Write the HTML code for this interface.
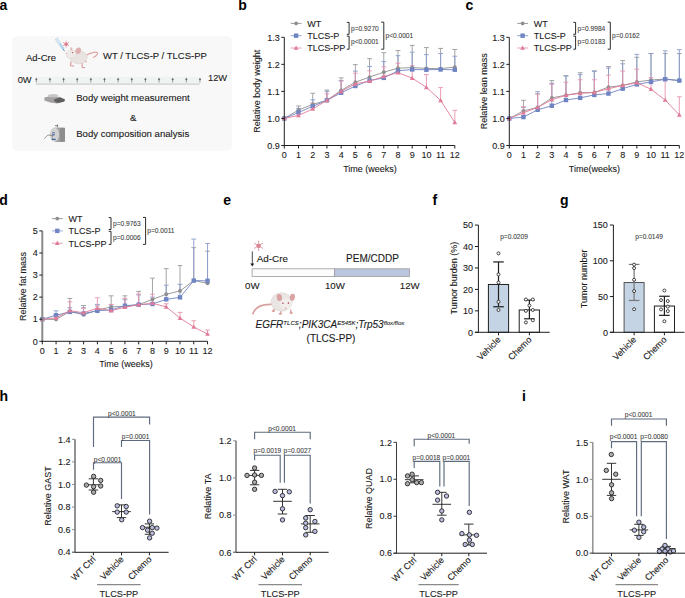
<!DOCTYPE html>
<html><head><meta charset="utf-8"><style>
html,body{margin:0;padding:0;background:#fff;width:685px;height:598px;overflow:hidden}
svg{display:block;font-family:"Liberation Sans", sans-serif}
</style></head><body>
<svg width="685" height="598" viewBox="0 0 685 598">
<line x1="298.51" y1="110.06" x2="298.51" y2="106.01" stroke="#9a9a9a" stroke-width="0.9" />
<line x1="296.11" y1="106.01" x2="300.91" y2="106.01" stroke="#9a9a9a" stroke-width="0.9" />
<line x1="312.72" y1="104.38" x2="312.72" y2="93.29" stroke="#9a9a9a" stroke-width="0.9" />
<line x1="310.32" y1="93.29" x2="315.12" y2="93.29" stroke="#9a9a9a" stroke-width="0.9" />
<line x1="326.93" y1="100.33" x2="326.93" y2="90.05" stroke="#9a9a9a" stroke-width="0.9" />
<line x1="324.53" y1="90.05" x2="329.33" y2="90.05" stroke="#9a9a9a" stroke-width="0.9" />
<line x1="341.14" y1="90.32" x2="341.14" y2="77.88" stroke="#9a9a9a" stroke-width="0.9" />
<line x1="338.74" y1="77.88" x2="343.54" y2="77.88" stroke="#9a9a9a" stroke-width="0.9" />
<line x1="355.35" y1="82.20" x2="355.35" y2="64.62" stroke="#9a9a9a" stroke-width="0.9" />
<line x1="352.95" y1="64.62" x2="357.75" y2="64.62" stroke="#9a9a9a" stroke-width="0.9" />
<line x1="369.56" y1="77.06" x2="369.56" y2="58.67" stroke="#9a9a9a" stroke-width="0.9" />
<line x1="367.16" y1="58.67" x2="371.96" y2="58.67" stroke="#9a9a9a" stroke-width="0.9" />
<line x1="383.77" y1="72.19" x2="383.77" y2="52.72" stroke="#9a9a9a" stroke-width="0.9" />
<line x1="381.37" y1="52.72" x2="386.17" y2="52.72" stroke="#9a9a9a" stroke-width="0.9" />
<line x1="397.98" y1="68.14" x2="397.98" y2="50.55" stroke="#9a9a9a" stroke-width="0.9" />
<line x1="395.58" y1="50.55" x2="400.38" y2="50.55" stroke="#9a9a9a" stroke-width="0.9" />
<line x1="412.19" y1="67.60" x2="412.19" y2="45.42" stroke="#9a9a9a" stroke-width="0.9" />
<line x1="409.79" y1="45.42" x2="414.59" y2="45.42" stroke="#9a9a9a" stroke-width="0.9" />
<line x1="426.40" y1="68.41" x2="426.40" y2="47.58" stroke="#9a9a9a" stroke-width="0.9" />
<line x1="424.00" y1="47.58" x2="428.80" y2="47.58" stroke="#9a9a9a" stroke-width="0.9" />
<line x1="440.61" y1="68.68" x2="440.61" y2="48.39" stroke="#9a9a9a" stroke-width="0.9" />
<line x1="438.21" y1="48.39" x2="443.01" y2="48.39" stroke="#9a9a9a" stroke-width="0.9" />
<line x1="454.82" y1="67.06" x2="454.82" y2="49.47" stroke="#9a9a9a" stroke-width="0.9" />
<line x1="452.42" y1="49.47" x2="457.22" y2="49.47" stroke="#9a9a9a" stroke-width="0.9" />
<line x1="298.51" y1="112.50" x2="298.51" y2="108.44" stroke="#8a9ccf" stroke-width="0.9" />
<line x1="296.11" y1="108.44" x2="300.91" y2="108.44" stroke="#8a9ccf" stroke-width="0.9" />
<line x1="312.72" y1="106.28" x2="312.72" y2="99.79" stroke="#8a9ccf" stroke-width="0.9" />
<line x1="310.32" y1="99.79" x2="315.12" y2="99.79" stroke="#8a9ccf" stroke-width="0.9" />
<line x1="326.93" y1="100.33" x2="326.93" y2="91.40" stroke="#8a9ccf" stroke-width="0.9" />
<line x1="324.53" y1="91.40" x2="329.33" y2="91.40" stroke="#8a9ccf" stroke-width="0.9" />
<line x1="341.14" y1="92.75" x2="341.14" y2="80.58" stroke="#8a9ccf" stroke-width="0.9" />
<line x1="338.74" y1="80.58" x2="343.54" y2="80.58" stroke="#8a9ccf" stroke-width="0.9" />
<line x1="355.35" y1="85.99" x2="355.35" y2="71.11" stroke="#8a9ccf" stroke-width="0.9" />
<line x1="352.95" y1="71.11" x2="357.75" y2="71.11" stroke="#8a9ccf" stroke-width="0.9" />
<line x1="369.56" y1="80.58" x2="369.56" y2="66.51" stroke="#8a9ccf" stroke-width="0.9" />
<line x1="367.16" y1="66.51" x2="371.96" y2="66.51" stroke="#8a9ccf" stroke-width="0.9" />
<line x1="383.77" y1="77.88" x2="383.77" y2="61.65" stroke="#8a9ccf" stroke-width="0.9" />
<line x1="381.37" y1="61.65" x2="386.17" y2="61.65" stroke="#8a9ccf" stroke-width="0.9" />
<line x1="397.98" y1="70.84" x2="397.98" y2="55.69" stroke="#8a9ccf" stroke-width="0.9" />
<line x1="395.58" y1="55.69" x2="400.38" y2="55.69" stroke="#8a9ccf" stroke-width="0.9" />
<line x1="412.19" y1="69.49" x2="412.19" y2="52.18" stroke="#8a9ccf" stroke-width="0.9" />
<line x1="409.79" y1="52.18" x2="414.59" y2="52.18" stroke="#8a9ccf" stroke-width="0.9" />
<line x1="426.40" y1="69.76" x2="426.40" y2="54.61" stroke="#8a9ccf" stroke-width="0.9" />
<line x1="424.00" y1="54.61" x2="428.80" y2="54.61" stroke="#8a9ccf" stroke-width="0.9" />
<line x1="440.61" y1="69.49" x2="440.61" y2="53.53" stroke="#8a9ccf" stroke-width="0.9" />
<line x1="438.21" y1="53.53" x2="443.01" y2="53.53" stroke="#8a9ccf" stroke-width="0.9" />
<line x1="454.82" y1="69.76" x2="454.82" y2="56.24" stroke="#8a9ccf" stroke-width="0.9" />
<line x1="452.42" y1="56.24" x2="457.22" y2="56.24" stroke="#8a9ccf" stroke-width="0.9" />
<line x1="298.51" y1="115.47" x2="298.51" y2="110.34" stroke="#e894ab" stroke-width="0.9" />
<line x1="296.11" y1="110.34" x2="300.91" y2="110.34" stroke="#e894ab" stroke-width="0.9" />
<line x1="312.72" y1="108.98" x2="312.72" y2="103.03" stroke="#e894ab" stroke-width="0.9" />
<line x1="310.32" y1="103.03" x2="315.12" y2="103.03" stroke="#e894ab" stroke-width="0.9" />
<line x1="326.93" y1="100.33" x2="326.93" y2="93.83" stroke="#e894ab" stroke-width="0.9" />
<line x1="324.53" y1="93.83" x2="329.33" y2="93.83" stroke="#e894ab" stroke-width="0.9" />
<line x1="341.14" y1="91.40" x2="341.14" y2="81.12" stroke="#e894ab" stroke-width="0.9" />
<line x1="338.74" y1="81.12" x2="343.54" y2="81.12" stroke="#e894ab" stroke-width="0.9" />
<line x1="355.35" y1="83.83" x2="355.35" y2="73.28" stroke="#e894ab" stroke-width="0.9" />
<line x1="352.95" y1="73.28" x2="357.75" y2="73.28" stroke="#e894ab" stroke-width="0.9" />
<line x1="369.56" y1="81.12" x2="369.56" y2="70.84" stroke="#e894ab" stroke-width="0.9" />
<line x1="367.16" y1="70.84" x2="371.96" y2="70.84" stroke="#e894ab" stroke-width="0.9" />
<line x1="383.77" y1="76.52" x2="383.77" y2="66.78" stroke="#e894ab" stroke-width="0.9" />
<line x1="381.37" y1="66.78" x2="386.17" y2="66.78" stroke="#e894ab" stroke-width="0.9" />
<line x1="397.98" y1="72.74" x2="397.98" y2="63.27" stroke="#e894ab" stroke-width="0.9" />
<line x1="395.58" y1="63.27" x2="400.38" y2="63.27" stroke="#e894ab" stroke-width="0.9" />
<line x1="412.19" y1="78.15" x2="412.19" y2="65.70" stroke="#e894ab" stroke-width="0.9" />
<line x1="409.79" y1="65.70" x2="414.59" y2="65.70" stroke="#e894ab" stroke-width="0.9" />
<line x1="426.40" y1="87.34" x2="426.40" y2="74.63" stroke="#e894ab" stroke-width="0.9" />
<line x1="424.00" y1="74.63" x2="428.80" y2="74.63" stroke="#e894ab" stroke-width="0.9" />
<line x1="440.61" y1="100.33" x2="440.61" y2="87.61" stroke="#e894ab" stroke-width="0.9" />
<line x1="438.21" y1="87.61" x2="443.01" y2="87.61" stroke="#e894ab" stroke-width="0.9" />
<line x1="454.82" y1="122.51" x2="454.82" y2="110.34" stroke="#e894ab" stroke-width="0.9" />
<line x1="452.42" y1="110.34" x2="457.22" y2="110.34" stroke="#e894ab" stroke-width="0.9" />
<polyline points="284.30,118.45 298.51,110.06 312.72,104.38 326.93,100.33 341.14,90.32 355.35,82.20 369.56,77.06 383.77,72.19 397.98,68.14 412.19,67.60 426.40,68.41 440.61,68.68 454.82,67.06" stroke="#8e8e8e" stroke-width="0.9" fill="none" />
<circle cx="284.30" cy="118.45" r="1.90" fill="#8e8e8e"/>
<circle cx="298.51" cy="110.06" r="1.90" fill="#8e8e8e"/>
<circle cx="312.72" cy="104.38" r="1.90" fill="#8e8e8e"/>
<circle cx="326.93" cy="100.33" r="1.90" fill="#8e8e8e"/>
<circle cx="341.14" cy="90.32" r="1.90" fill="#8e8e8e"/>
<circle cx="355.35" cy="82.20" r="1.90" fill="#8e8e8e"/>
<circle cx="369.56" cy="77.06" r="1.90" fill="#8e8e8e"/>
<circle cx="383.77" cy="72.19" r="1.90" fill="#8e8e8e"/>
<circle cx="397.98" cy="68.14" r="1.90" fill="#8e8e8e"/>
<circle cx="412.19" cy="67.60" r="1.90" fill="#8e8e8e"/>
<circle cx="426.40" cy="68.41" r="1.90" fill="#8e8e8e"/>
<circle cx="440.61" cy="68.68" r="1.90" fill="#8e8e8e"/>
<circle cx="454.82" cy="67.06" r="1.90" fill="#8e8e8e"/>
<polyline points="284.30,118.45 298.51,112.50 312.72,106.28 326.93,100.33 341.14,92.75 355.35,85.99 369.56,80.58 383.77,77.88 397.98,70.84 412.19,69.49 426.40,69.76 440.61,69.49 454.82,69.76" stroke="#6f85c3" stroke-width="0.9" fill="none" />
<rect x="282.10" y="116.25" width="4.40" height="4.40" fill="#6f85c3"/>
<rect x="296.31" y="110.30" width="4.40" height="4.40" fill="#6f85c3"/>
<rect x="310.52" y="104.08" width="4.40" height="4.40" fill="#6f85c3"/>
<rect x="324.73" y="98.13" width="4.40" height="4.40" fill="#6f85c3"/>
<rect x="338.94" y="90.55" width="4.40" height="4.40" fill="#6f85c3"/>
<rect x="353.15" y="83.79" width="4.40" height="4.40" fill="#6f85c3"/>
<rect x="367.36" y="78.38" width="4.40" height="4.40" fill="#6f85c3"/>
<rect x="381.57" y="75.68" width="4.40" height="4.40" fill="#6f85c3"/>
<rect x="395.78" y="68.64" width="4.40" height="4.40" fill="#6f85c3"/>
<rect x="409.99" y="67.29" width="4.40" height="4.40" fill="#6f85c3"/>
<rect x="424.20" y="67.56" width="4.40" height="4.40" fill="#6f85c3"/>
<rect x="438.41" y="67.29" width="4.40" height="4.40" fill="#6f85c3"/>
<rect x="452.62" y="67.56" width="4.40" height="4.40" fill="#6f85c3"/>
<polyline points="284.30,118.45 298.51,115.47 312.72,108.98 326.93,100.33 341.14,91.40 355.35,83.83 369.56,81.12 383.77,76.52 397.98,72.74 412.19,78.15 426.40,87.34 440.61,100.33 454.82,122.51" stroke="#e17b98" stroke-width="0.9" fill="none" />
<polygon points="284.30,116.05 286.70,120.25 281.90,120.25" fill="#e17b98"/>
<polygon points="298.51,113.07 300.91,117.27 296.11,117.27" fill="#e17b98"/>
<polygon points="312.72,106.58 315.12,110.78 310.32,110.78" fill="#e17b98"/>
<polygon points="326.93,97.93 329.33,102.13 324.53,102.13" fill="#e17b98"/>
<polygon points="341.14,89.00 343.54,93.20 338.74,93.20" fill="#e17b98"/>
<polygon points="355.35,81.43 357.75,85.63 352.95,85.63" fill="#e17b98"/>
<polygon points="369.56,78.72 371.96,82.92 367.16,82.92" fill="#e17b98"/>
<polygon points="383.77,74.12 386.17,78.32 381.37,78.32" fill="#e17b98"/>
<polygon points="397.98,70.34 400.38,74.54 395.58,74.54" fill="#e17b98"/>
<polygon points="412.19,75.75 414.59,79.95 409.79,79.95" fill="#e17b98"/>
<polygon points="426.40,84.94 428.80,89.14 424.00,89.14" fill="#e17b98"/>
<polygon points="440.61,97.93 443.01,102.13 438.21,102.13" fill="#e17b98"/>
<polygon points="454.82,120.11 457.22,124.31 452.42,124.31" fill="#e17b98"/>
<line x1="284.30" y1="37.30" x2="284.30" y2="146.00" stroke="#1e1e1e" stroke-width="1" />
<line x1="283.80" y1="145.50" x2="454.82" y2="145.50" stroke="#1e1e1e" stroke-width="1" />
<line x1="281.30" y1="145.50" x2="284.30" y2="145.50" stroke="#1e1e1e" stroke-width="1" />
<text x="279.80" y="148.70" font-size="9" text-anchor="end" fill="#1a1a1a" stroke="#1a1a1a" stroke-width="0.10" font-weight="normal" font-style="normal" >0.9</text>
<line x1="281.30" y1="118.45" x2="284.30" y2="118.45" stroke="#1e1e1e" stroke-width="1" />
<text x="279.80" y="121.65" font-size="9" text-anchor="end" fill="#1a1a1a" stroke="#1a1a1a" stroke-width="0.10" font-weight="normal" font-style="normal" >1.0</text>
<line x1="281.30" y1="91.40" x2="284.30" y2="91.40" stroke="#1e1e1e" stroke-width="1" />
<text x="279.80" y="94.60" font-size="9" text-anchor="end" fill="#1a1a1a" stroke="#1a1a1a" stroke-width="0.10" font-weight="normal" font-style="normal" >1.1</text>
<line x1="281.30" y1="64.35" x2="284.30" y2="64.35" stroke="#1e1e1e" stroke-width="1" />
<text x="279.80" y="67.55" font-size="9" text-anchor="end" fill="#1a1a1a" stroke="#1a1a1a" stroke-width="0.10" font-weight="normal" font-style="normal" >1.2</text>
<line x1="281.30" y1="37.30" x2="284.30" y2="37.30" stroke="#1e1e1e" stroke-width="1" />
<text x="279.80" y="40.50" font-size="9" text-anchor="end" fill="#1a1a1a" stroke="#1a1a1a" stroke-width="0.10" font-weight="normal" font-style="normal" >1.3</text>
<line x1="284.30" y1="145.50" x2="284.30" y2="148.50" stroke="#1e1e1e" stroke-width="1" />
<text x="284.30" y="158.00" font-size="9" text-anchor="middle" fill="#1a1a1a" stroke="#1a1a1a" stroke-width="0.10" font-weight="normal" font-style="normal" >0</text>
<line x1="298.51" y1="145.50" x2="298.51" y2="148.50" stroke="#1e1e1e" stroke-width="1" />
<text x="298.51" y="158.00" font-size="9" text-anchor="middle" fill="#1a1a1a" stroke="#1a1a1a" stroke-width="0.10" font-weight="normal" font-style="normal" >1</text>
<line x1="312.72" y1="145.50" x2="312.72" y2="148.50" stroke="#1e1e1e" stroke-width="1" />
<text x="312.72" y="158.00" font-size="9" text-anchor="middle" fill="#1a1a1a" stroke="#1a1a1a" stroke-width="0.10" font-weight="normal" font-style="normal" >2</text>
<line x1="326.93" y1="145.50" x2="326.93" y2="148.50" stroke="#1e1e1e" stroke-width="1" />
<text x="326.93" y="158.00" font-size="9" text-anchor="middle" fill="#1a1a1a" stroke="#1a1a1a" stroke-width="0.10" font-weight="normal" font-style="normal" >3</text>
<line x1="341.14" y1="145.50" x2="341.14" y2="148.50" stroke="#1e1e1e" stroke-width="1" />
<text x="341.14" y="158.00" font-size="9" text-anchor="middle" fill="#1a1a1a" stroke="#1a1a1a" stroke-width="0.10" font-weight="normal" font-style="normal" >4</text>
<line x1="355.35" y1="145.50" x2="355.35" y2="148.50" stroke="#1e1e1e" stroke-width="1" />
<text x="355.35" y="158.00" font-size="9" text-anchor="middle" fill="#1a1a1a" stroke="#1a1a1a" stroke-width="0.10" font-weight="normal" font-style="normal" >5</text>
<line x1="369.56" y1="145.50" x2="369.56" y2="148.50" stroke="#1e1e1e" stroke-width="1" />
<text x="369.56" y="158.00" font-size="9" text-anchor="middle" fill="#1a1a1a" stroke="#1a1a1a" stroke-width="0.10" font-weight="normal" font-style="normal" >6</text>
<line x1="383.77" y1="145.50" x2="383.77" y2="148.50" stroke="#1e1e1e" stroke-width="1" />
<text x="383.77" y="158.00" font-size="9" text-anchor="middle" fill="#1a1a1a" stroke="#1a1a1a" stroke-width="0.10" font-weight="normal" font-style="normal" >7</text>
<line x1="397.98" y1="145.50" x2="397.98" y2="148.50" stroke="#1e1e1e" stroke-width="1" />
<text x="397.98" y="158.00" font-size="9" text-anchor="middle" fill="#1a1a1a" stroke="#1a1a1a" stroke-width="0.10" font-weight="normal" font-style="normal" >8</text>
<line x1="412.19" y1="145.50" x2="412.19" y2="148.50" stroke="#1e1e1e" stroke-width="1" />
<text x="412.19" y="158.00" font-size="9" text-anchor="middle" fill="#1a1a1a" stroke="#1a1a1a" stroke-width="0.10" font-weight="normal" font-style="normal" >9</text>
<line x1="426.40" y1="145.50" x2="426.40" y2="148.50" stroke="#1e1e1e" stroke-width="1" />
<text x="426.40" y="158.00" font-size="9" text-anchor="middle" fill="#1a1a1a" stroke="#1a1a1a" stroke-width="0.10" font-weight="normal" font-style="normal" >10</text>
<line x1="440.61" y1="145.50" x2="440.61" y2="148.50" stroke="#1e1e1e" stroke-width="1" />
<text x="440.61" y="158.00" font-size="9" text-anchor="middle" fill="#1a1a1a" stroke="#1a1a1a" stroke-width="0.10" font-weight="normal" font-style="normal" >11</text>
<line x1="454.82" y1="145.50" x2="454.82" y2="148.50" stroke="#1e1e1e" stroke-width="1" />
<text x="454.82" y="158.00" font-size="9" text-anchor="middle" fill="#1a1a1a" stroke="#1a1a1a" stroke-width="0.10" font-weight="normal" font-style="normal" >12</text>
<text x="370.00" y="171.50" font-size="9" text-anchor="middle" fill="#1a1a1a" stroke="#1a1a1a" stroke-width="0.10" font-weight="normal" font-style="normal" >Time (weeks)</text>
<text x="0.00" y="0.00" font-size="9" text-anchor="middle" fill="#1a1a1a" stroke="#1a1a1a" stroke-width="0.10" font-weight="normal" font-style="normal" transform="translate(259.60,91.30) rotate(-90)">Relative body weight</text>
<line x1="290.70" y1="23.40" x2="301.50" y2="23.40" stroke="#8e8e8e" stroke-width="0.9" />
<circle cx="296.10" cy="23.40" r="1.90" fill="#8e8e8e"/>
<text x="307.30" y="26.70" font-size="9" text-anchor="start" fill="#1a1a1a" stroke="#1a1a1a" stroke-width="0.10" font-weight="normal" font-style="normal" >WT</text>
<line x1="290.70" y1="35.70" x2="301.50" y2="35.70" stroke="#8a9ccf" stroke-width="0.9" />
<rect x="293.90" y="33.50" width="4.40" height="4.40" fill="#6f85c3"/>
<text x="307.30" y="39.00" font-size="9" text-anchor="start" fill="#1a1a1a" stroke="#1a1a1a" stroke-width="0.10" font-weight="normal" font-style="normal" >TLCS-P</text>
<line x1="290.70" y1="48.00" x2="301.50" y2="48.00" stroke="#e894ab" stroke-width="0.9" />
<polygon points="296.10,45.60 298.50,49.80 293.70,49.80" fill="#e17b98"/>
<text x="307.30" y="51.30" font-size="9" text-anchor="start" fill="#1a1a1a" stroke="#1a1a1a" stroke-width="0.10" font-weight="normal" font-style="normal" >TLCS-PP</text>
<path d="M346.80,22.40 H349.10 V34.30 H346.80" stroke="#222" stroke-width="0.95" fill="none"/>
<path d="M346.80,36.10 H349.10 V49.20 H346.80" stroke="#222" stroke-width="0.95" fill="none"/>
<text x="351.10" y="30.75" font-size="6.6" text-anchor="start" fill="#3a3a3a" stroke="#3a3a3a" stroke-width="0.07" font-weight="normal" font-style="normal" >p=0.9270</text>
<text x="351.10" y="44.45" font-size="6.6" text-anchor="start" fill="#3a3a3a" stroke="#3a3a3a" stroke-width="0.07" font-weight="normal" font-style="normal" >p&lt;0.0001</text>
<path d="M381.20,22.20 H383.80 V49.20 H381.20" stroke="#222" stroke-width="0.95" fill="none"/>
<text x="385.50" y="37.75" font-size="6.6" text-anchor="start" fill="#3a3a3a" stroke="#3a3a3a" stroke-width="0.07" font-weight="normal" font-style="normal" >p&lt;0.0001</text>
<line x1="523.47" y1="110.88" x2="523.47" y2="100.33" stroke="#9a9a9a" stroke-width="0.9" />
<line x1="521.07" y1="100.33" x2="525.87" y2="100.33" stroke="#9a9a9a" stroke-width="0.9" />
<line x1="537.64" y1="107.36" x2="537.64" y2="93.83" stroke="#9a9a9a" stroke-width="0.9" />
<line x1="535.24" y1="93.83" x2="540.04" y2="93.83" stroke="#9a9a9a" stroke-width="0.9" />
<line x1="551.81" y1="97.89" x2="551.81" y2="80.58" stroke="#9a9a9a" stroke-width="0.9" />
<line x1="549.41" y1="80.58" x2="554.21" y2="80.58" stroke="#9a9a9a" stroke-width="0.9" />
<line x1="565.98" y1="95.19" x2="565.98" y2="75.71" stroke="#9a9a9a" stroke-width="0.9" />
<line x1="563.58" y1="75.71" x2="568.38" y2="75.71" stroke="#9a9a9a" stroke-width="0.9" />
<line x1="580.15" y1="92.75" x2="580.15" y2="72.74" stroke="#9a9a9a" stroke-width="0.9" />
<line x1="577.75" y1="72.74" x2="582.55" y2="72.74" stroke="#9a9a9a" stroke-width="0.9" />
<line x1="594.32" y1="92.48" x2="594.32" y2="70.84" stroke="#9a9a9a" stroke-width="0.9" />
<line x1="591.92" y1="70.84" x2="596.72" y2="70.84" stroke="#9a9a9a" stroke-width="0.9" />
<line x1="608.49" y1="87.07" x2="608.49" y2="66.51" stroke="#9a9a9a" stroke-width="0.9" />
<line x1="606.09" y1="66.51" x2="610.89" y2="66.51" stroke="#9a9a9a" stroke-width="0.9" />
<line x1="622.66" y1="85.45" x2="622.66" y2="60.56" stroke="#9a9a9a" stroke-width="0.9" />
<line x1="620.26" y1="60.56" x2="625.06" y2="60.56" stroke="#9a9a9a" stroke-width="0.9" />
<line x1="636.83" y1="81.93" x2="636.83" y2="57.32" stroke="#9a9a9a" stroke-width="0.9" />
<line x1="634.43" y1="57.32" x2="639.23" y2="57.32" stroke="#9a9a9a" stroke-width="0.9" />
<line x1="651.00" y1="80.04" x2="651.00" y2="53.53" stroke="#9a9a9a" stroke-width="0.9" />
<line x1="648.60" y1="53.53" x2="653.40" y2="53.53" stroke="#9a9a9a" stroke-width="0.9" />
<line x1="665.17" y1="78.96" x2="665.17" y2="53.53" stroke="#9a9a9a" stroke-width="0.9" />
<line x1="662.77" y1="53.53" x2="667.57" y2="53.53" stroke="#9a9a9a" stroke-width="0.9" />
<line x1="679.34" y1="80.58" x2="679.34" y2="53.53" stroke="#9a9a9a" stroke-width="0.9" />
<line x1="676.94" y1="53.53" x2="681.74" y2="53.53" stroke="#9a9a9a" stroke-width="0.9" />
<line x1="523.47" y1="117.10" x2="523.47" y2="107.63" stroke="#8a9ccf" stroke-width="0.9" />
<line x1="521.07" y1="107.63" x2="525.87" y2="107.63" stroke="#8a9ccf" stroke-width="0.9" />
<line x1="537.64" y1="109.79" x2="537.64" y2="91.67" stroke="#8a9ccf" stroke-width="0.9" />
<line x1="535.24" y1="91.67" x2="540.04" y2="91.67" stroke="#8a9ccf" stroke-width="0.9" />
<line x1="551.81" y1="105.74" x2="551.81" y2="83.29" stroke="#8a9ccf" stroke-width="0.9" />
<line x1="549.41" y1="83.29" x2="554.21" y2="83.29" stroke="#8a9ccf" stroke-width="0.9" />
<line x1="565.98" y1="100.06" x2="565.98" y2="75.98" stroke="#8a9ccf" stroke-width="0.9" />
<line x1="563.58" y1="75.98" x2="568.38" y2="75.98" stroke="#8a9ccf" stroke-width="0.9" />
<line x1="580.15" y1="97.89" x2="580.15" y2="74.63" stroke="#8a9ccf" stroke-width="0.9" />
<line x1="577.75" y1="74.63" x2="582.55" y2="74.63" stroke="#8a9ccf" stroke-width="0.9" />
<line x1="594.32" y1="94.92" x2="594.32" y2="71.38" stroke="#8a9ccf" stroke-width="0.9" />
<line x1="591.92" y1="71.38" x2="596.72" y2="71.38" stroke="#8a9ccf" stroke-width="0.9" />
<line x1="608.49" y1="93.56" x2="608.49" y2="68.14" stroke="#8a9ccf" stroke-width="0.9" />
<line x1="606.09" y1="68.14" x2="610.89" y2="68.14" stroke="#8a9ccf" stroke-width="0.9" />
<line x1="622.66" y1="88.69" x2="622.66" y2="63.81" stroke="#8a9ccf" stroke-width="0.9" />
<line x1="620.26" y1="63.81" x2="625.06" y2="63.81" stroke="#8a9ccf" stroke-width="0.9" />
<line x1="636.83" y1="84.37" x2="636.83" y2="54.34" stroke="#8a9ccf" stroke-width="0.9" />
<line x1="634.43" y1="54.34" x2="639.23" y2="54.34" stroke="#8a9ccf" stroke-width="0.9" />
<line x1="651.00" y1="81.93" x2="651.00" y2="53.53" stroke="#8a9ccf" stroke-width="0.9" />
<line x1="648.60" y1="53.53" x2="653.40" y2="53.53" stroke="#8a9ccf" stroke-width="0.9" />
<line x1="665.17" y1="79.23" x2="665.17" y2="50.83" stroke="#8a9ccf" stroke-width="0.9" />
<line x1="662.77" y1="50.83" x2="667.57" y2="50.83" stroke="#8a9ccf" stroke-width="0.9" />
<line x1="679.34" y1="80.58" x2="679.34" y2="49.74" stroke="#8a9ccf" stroke-width="0.9" />
<line x1="676.94" y1="49.74" x2="681.74" y2="49.74" stroke="#8a9ccf" stroke-width="0.9" />
<line x1="523.47" y1="112.77" x2="523.47" y2="106.55" stroke="#e894ab" stroke-width="0.9" />
<line x1="521.07" y1="106.55" x2="525.87" y2="106.55" stroke="#e894ab" stroke-width="0.9" />
<line x1="537.64" y1="107.36" x2="537.64" y2="94.10" stroke="#e894ab" stroke-width="0.9" />
<line x1="535.24" y1="94.10" x2="540.04" y2="94.10" stroke="#e894ab" stroke-width="0.9" />
<line x1="551.81" y1="99.79" x2="551.81" y2="84.37" stroke="#e894ab" stroke-width="0.9" />
<line x1="549.41" y1="84.37" x2="554.21" y2="84.37" stroke="#e894ab" stroke-width="0.9" />
<line x1="565.98" y1="95.19" x2="565.98" y2="82.20" stroke="#e894ab" stroke-width="0.9" />
<line x1="563.58" y1="82.20" x2="568.38" y2="82.20" stroke="#e894ab" stroke-width="0.9" />
<line x1="580.15" y1="93.29" x2="580.15" y2="79.77" stroke="#e894ab" stroke-width="0.9" />
<line x1="577.75" y1="79.77" x2="582.55" y2="79.77" stroke="#e894ab" stroke-width="0.9" />
<line x1="594.32" y1="92.48" x2="594.32" y2="79.77" stroke="#e894ab" stroke-width="0.9" />
<line x1="591.92" y1="79.77" x2="596.72" y2="79.77" stroke="#e894ab" stroke-width="0.9" />
<line x1="608.49" y1="88.69" x2="608.49" y2="75.17" stroke="#e894ab" stroke-width="0.9" />
<line x1="606.09" y1="75.17" x2="610.89" y2="75.17" stroke="#e894ab" stroke-width="0.9" />
<line x1="622.66" y1="85.45" x2="622.66" y2="71.11" stroke="#e894ab" stroke-width="0.9" />
<line x1="620.26" y1="71.11" x2="625.06" y2="71.11" stroke="#e894ab" stroke-width="0.9" />
<line x1="636.83" y1="82.74" x2="636.83" y2="69.22" stroke="#e894ab" stroke-width="0.9" />
<line x1="634.43" y1="69.22" x2="639.23" y2="69.22" stroke="#e894ab" stroke-width="0.9" />
<line x1="651.00" y1="89.24" x2="651.00" y2="77.60" stroke="#e894ab" stroke-width="0.9" />
<line x1="648.60" y1="77.60" x2="653.40" y2="77.60" stroke="#e894ab" stroke-width="0.9" />
<line x1="665.17" y1="100.06" x2="665.17" y2="80.58" stroke="#e894ab" stroke-width="0.9" />
<line x1="662.77" y1="80.58" x2="667.57" y2="80.58" stroke="#e894ab" stroke-width="0.9" />
<line x1="679.34" y1="114.93" x2="679.34" y2="96.81" stroke="#e894ab" stroke-width="0.9" />
<line x1="676.94" y1="96.81" x2="681.74" y2="96.81" stroke="#e894ab" stroke-width="0.9" />
<polyline points="509.30,118.45 523.47,110.88 537.64,107.36 551.81,97.89 565.98,95.19 580.15,92.75 594.32,92.48 608.49,87.07 622.66,85.45 636.83,81.93 651.00,80.04 665.17,78.96 679.34,80.58" stroke="#8e8e8e" stroke-width="0.9" fill="none" />
<circle cx="509.30" cy="118.45" r="1.90" fill="#8e8e8e"/>
<circle cx="523.47" cy="110.88" r="1.90" fill="#8e8e8e"/>
<circle cx="537.64" cy="107.36" r="1.90" fill="#8e8e8e"/>
<circle cx="551.81" cy="97.89" r="1.90" fill="#8e8e8e"/>
<circle cx="565.98" cy="95.19" r="1.90" fill="#8e8e8e"/>
<circle cx="580.15" cy="92.75" r="1.90" fill="#8e8e8e"/>
<circle cx="594.32" cy="92.48" r="1.90" fill="#8e8e8e"/>
<circle cx="608.49" cy="87.07" r="1.90" fill="#8e8e8e"/>
<circle cx="622.66" cy="85.45" r="1.90" fill="#8e8e8e"/>
<circle cx="636.83" cy="81.93" r="1.90" fill="#8e8e8e"/>
<circle cx="651.00" cy="80.04" r="1.90" fill="#8e8e8e"/>
<circle cx="665.17" cy="78.96" r="1.90" fill="#8e8e8e"/>
<circle cx="679.34" cy="80.58" r="1.90" fill="#8e8e8e"/>
<polyline points="509.30,118.45 523.47,117.10 537.64,109.79 551.81,105.74 565.98,100.06 580.15,97.89 594.32,94.92 608.49,93.56 622.66,88.69 636.83,84.37 651.00,81.93 665.17,79.23 679.34,80.58" stroke="#6f85c3" stroke-width="0.9" fill="none" />
<rect x="507.10" y="116.25" width="4.40" height="4.40" fill="#6f85c3"/>
<rect x="521.27" y="114.90" width="4.40" height="4.40" fill="#6f85c3"/>
<rect x="535.44" y="107.59" width="4.40" height="4.40" fill="#6f85c3"/>
<rect x="549.61" y="103.54" width="4.40" height="4.40" fill="#6f85c3"/>
<rect x="563.78" y="97.86" width="4.40" height="4.40" fill="#6f85c3"/>
<rect x="577.95" y="95.69" width="4.40" height="4.40" fill="#6f85c3"/>
<rect x="592.12" y="92.72" width="4.40" height="4.40" fill="#6f85c3"/>
<rect x="606.29" y="91.36" width="4.40" height="4.40" fill="#6f85c3"/>
<rect x="620.46" y="86.49" width="4.40" height="4.40" fill="#6f85c3"/>
<rect x="634.63" y="82.17" width="4.40" height="4.40" fill="#6f85c3"/>
<rect x="648.80" y="79.73" width="4.40" height="4.40" fill="#6f85c3"/>
<rect x="662.97" y="77.03" width="4.40" height="4.40" fill="#6f85c3"/>
<rect x="677.14" y="78.38" width="4.40" height="4.40" fill="#6f85c3"/>
<polyline points="509.30,118.45 523.47,112.77 537.64,107.36 551.81,99.79 565.98,95.19 580.15,93.29 594.32,92.48 608.49,88.69 622.66,85.45 636.83,82.74 651.00,89.24 665.17,100.06 679.34,114.93" stroke="#e17b98" stroke-width="0.9" fill="none" />
<polygon points="509.30,116.05 511.70,120.25 506.90,120.25" fill="#e17b98"/>
<polygon points="523.47,110.37 525.87,114.57 521.07,114.57" fill="#e17b98"/>
<polygon points="537.64,104.96 540.04,109.16 535.24,109.16" fill="#e17b98"/>
<polygon points="551.81,97.39 554.21,101.59 549.41,101.59" fill="#e17b98"/>
<polygon points="565.98,92.79 568.38,96.99 563.58,96.99" fill="#e17b98"/>
<polygon points="580.15,90.89 582.55,95.09 577.75,95.09" fill="#e17b98"/>
<polygon points="594.32,90.08 596.72,94.28 591.92,94.28" fill="#e17b98"/>
<polygon points="608.49,86.29 610.89,90.49 606.09,90.49" fill="#e17b98"/>
<polygon points="622.66,83.05 625.06,87.25 620.26,87.25" fill="#e17b98"/>
<polygon points="636.83,80.34 639.23,84.54 634.43,84.54" fill="#e17b98"/>
<polygon points="651.00,86.84 653.40,91.04 648.60,91.04" fill="#e17b98"/>
<polygon points="665.17,97.66 667.57,101.86 662.77,101.86" fill="#e17b98"/>
<polygon points="679.34,112.53 681.74,116.73 676.94,116.73" fill="#e17b98"/>
<line x1="509.30" y1="37.30" x2="509.30" y2="146.00" stroke="#1e1e1e" stroke-width="1" />
<line x1="508.80" y1="145.50" x2="679.34" y2="145.50" stroke="#1e1e1e" stroke-width="1" />
<line x1="506.30" y1="145.50" x2="509.30" y2="145.50" stroke="#1e1e1e" stroke-width="1" />
<text x="504.80" y="148.70" font-size="9" text-anchor="end" fill="#1a1a1a" stroke="#1a1a1a" stroke-width="0.10" font-weight="normal" font-style="normal" >0.9</text>
<line x1="506.30" y1="118.45" x2="509.30" y2="118.45" stroke="#1e1e1e" stroke-width="1" />
<text x="504.80" y="121.65" font-size="9" text-anchor="end" fill="#1a1a1a" stroke="#1a1a1a" stroke-width="0.10" font-weight="normal" font-style="normal" >1.0</text>
<line x1="506.30" y1="91.40" x2="509.30" y2="91.40" stroke="#1e1e1e" stroke-width="1" />
<text x="504.80" y="94.60" font-size="9" text-anchor="end" fill="#1a1a1a" stroke="#1a1a1a" stroke-width="0.10" font-weight="normal" font-style="normal" >1.1</text>
<line x1="506.30" y1="64.35" x2="509.30" y2="64.35" stroke="#1e1e1e" stroke-width="1" />
<text x="504.80" y="67.55" font-size="9" text-anchor="end" fill="#1a1a1a" stroke="#1a1a1a" stroke-width="0.10" font-weight="normal" font-style="normal" >1.2</text>
<line x1="506.30" y1="37.30" x2="509.30" y2="37.30" stroke="#1e1e1e" stroke-width="1" />
<text x="504.80" y="40.50" font-size="9" text-anchor="end" fill="#1a1a1a" stroke="#1a1a1a" stroke-width="0.10" font-weight="normal" font-style="normal" >1.3</text>
<line x1="509.30" y1="145.50" x2="509.30" y2="148.50" stroke="#1e1e1e" stroke-width="1" />
<text x="509.30" y="158.00" font-size="9" text-anchor="middle" fill="#1a1a1a" stroke="#1a1a1a" stroke-width="0.10" font-weight="normal" font-style="normal" >0</text>
<line x1="523.47" y1="145.50" x2="523.47" y2="148.50" stroke="#1e1e1e" stroke-width="1" />
<text x="523.47" y="158.00" font-size="9" text-anchor="middle" fill="#1a1a1a" stroke="#1a1a1a" stroke-width="0.10" font-weight="normal" font-style="normal" >1</text>
<line x1="537.64" y1="145.50" x2="537.64" y2="148.50" stroke="#1e1e1e" stroke-width="1" />
<text x="537.64" y="158.00" font-size="9" text-anchor="middle" fill="#1a1a1a" stroke="#1a1a1a" stroke-width="0.10" font-weight="normal" font-style="normal" >2</text>
<line x1="551.81" y1="145.50" x2="551.81" y2="148.50" stroke="#1e1e1e" stroke-width="1" />
<text x="551.81" y="158.00" font-size="9" text-anchor="middle" fill="#1a1a1a" stroke="#1a1a1a" stroke-width="0.10" font-weight="normal" font-style="normal" >3</text>
<line x1="565.98" y1="145.50" x2="565.98" y2="148.50" stroke="#1e1e1e" stroke-width="1" />
<text x="565.98" y="158.00" font-size="9" text-anchor="middle" fill="#1a1a1a" stroke="#1a1a1a" stroke-width="0.10" font-weight="normal" font-style="normal" >4</text>
<line x1="580.15" y1="145.50" x2="580.15" y2="148.50" stroke="#1e1e1e" stroke-width="1" />
<text x="580.15" y="158.00" font-size="9" text-anchor="middle" fill="#1a1a1a" stroke="#1a1a1a" stroke-width="0.10" font-weight="normal" font-style="normal" >5</text>
<line x1="594.32" y1="145.50" x2="594.32" y2="148.50" stroke="#1e1e1e" stroke-width="1" />
<text x="594.32" y="158.00" font-size="9" text-anchor="middle" fill="#1a1a1a" stroke="#1a1a1a" stroke-width="0.10" font-weight="normal" font-style="normal" >6</text>
<line x1="608.49" y1="145.50" x2="608.49" y2="148.50" stroke="#1e1e1e" stroke-width="1" />
<text x="608.49" y="158.00" font-size="9" text-anchor="middle" fill="#1a1a1a" stroke="#1a1a1a" stroke-width="0.10" font-weight="normal" font-style="normal" >7</text>
<line x1="622.66" y1="145.50" x2="622.66" y2="148.50" stroke="#1e1e1e" stroke-width="1" />
<text x="622.66" y="158.00" font-size="9" text-anchor="middle" fill="#1a1a1a" stroke="#1a1a1a" stroke-width="0.10" font-weight="normal" font-style="normal" >8</text>
<line x1="636.83" y1="145.50" x2="636.83" y2="148.50" stroke="#1e1e1e" stroke-width="1" />
<text x="636.83" y="158.00" font-size="9" text-anchor="middle" fill="#1a1a1a" stroke="#1a1a1a" stroke-width="0.10" font-weight="normal" font-style="normal" >9</text>
<line x1="651.00" y1="145.50" x2="651.00" y2="148.50" stroke="#1e1e1e" stroke-width="1" />
<text x="651.00" y="158.00" font-size="9" text-anchor="middle" fill="#1a1a1a" stroke="#1a1a1a" stroke-width="0.10" font-weight="normal" font-style="normal" >10</text>
<line x1="665.17" y1="145.50" x2="665.17" y2="148.50" stroke="#1e1e1e" stroke-width="1" />
<text x="665.17" y="158.00" font-size="9" text-anchor="middle" fill="#1a1a1a" stroke="#1a1a1a" stroke-width="0.10" font-weight="normal" font-style="normal" >11</text>
<line x1="679.34" y1="145.50" x2="679.34" y2="148.50" stroke="#1e1e1e" stroke-width="1" />
<text x="679.34" y="158.00" font-size="9" text-anchor="middle" fill="#1a1a1a" stroke="#1a1a1a" stroke-width="0.10" font-weight="normal" font-style="normal" >12</text>
<text x="594.40" y="171.50" font-size="9" text-anchor="middle" fill="#1a1a1a" stroke="#1a1a1a" stroke-width="0.10" font-weight="normal" font-style="normal" >Time(weeks)</text>
<text x="0.00" y="0.00" font-size="9" text-anchor="middle" fill="#1a1a1a" stroke="#1a1a1a" stroke-width="0.10" font-weight="normal" font-style="normal" transform="translate(486.80,91.30) rotate(-90)">Relative lean mass</text>
<line x1="517.20" y1="23.40" x2="528.00" y2="23.40" stroke="#8e8e8e" stroke-width="0.9" />
<circle cx="522.60" cy="23.40" r="1.90" fill="#8e8e8e"/>
<text x="533.80" y="26.70" font-size="9" text-anchor="start" fill="#1a1a1a" stroke="#1a1a1a" stroke-width="0.10" font-weight="normal" font-style="normal" >WT</text>
<line x1="517.20" y1="35.70" x2="528.00" y2="35.70" stroke="#8a9ccf" stroke-width="0.9" />
<rect x="520.40" y="33.50" width="4.40" height="4.40" fill="#6f85c3"/>
<text x="533.80" y="39.00" font-size="9" text-anchor="start" fill="#1a1a1a" stroke="#1a1a1a" stroke-width="0.10" font-weight="normal" font-style="normal" >TLCS-P</text>
<line x1="517.20" y1="48.00" x2="528.00" y2="48.00" stroke="#e894ab" stroke-width="0.9" />
<polygon points="522.60,45.60 525.00,49.80 520.20,49.80" fill="#e17b98"/>
<text x="533.80" y="51.30" font-size="9" text-anchor="start" fill="#1a1a1a" stroke="#1a1a1a" stroke-width="0.10" font-weight="normal" font-style="normal" >TLCS-PP</text>
<path d="M573.30,22.40 H575.60 V34.30 H573.30" stroke="#222" stroke-width="0.95" fill="none"/>
<path d="M573.30,36.10 H575.60 V49.20 H573.30" stroke="#222" stroke-width="0.95" fill="none"/>
<text x="577.60" y="30.75" font-size="6.6" text-anchor="start" fill="#3a3a3a" stroke="#3a3a3a" stroke-width="0.07" font-weight="normal" font-style="normal" >p=0.9984</text>
<text x="577.60" y="44.45" font-size="6.6" text-anchor="start" fill="#3a3a3a" stroke="#3a3a3a" stroke-width="0.07" font-weight="normal" font-style="normal" >p=0.0183</text>
<path d="M607.70,22.20 H610.30 V49.20 H607.70" stroke="#222" stroke-width="0.95" fill="none"/>
<text x="612.00" y="37.75" font-size="6.6" text-anchor="start" fill="#3a3a3a" stroke="#3a3a3a" stroke-width="0.07" font-weight="normal" font-style="normal" >p=0.0162</text>
<line x1="56.07" y1="319.44" x2="56.07" y2="314.80" stroke="#9a9a9a" stroke-width="0.9" />
<line x1="53.67" y1="314.80" x2="58.47" y2="314.80" stroke="#9a9a9a" stroke-width="0.9" />
<line x1="69.84" y1="311.49" x2="69.84" y2="298.46" stroke="#9a9a9a" stroke-width="0.9" />
<line x1="67.44" y1="298.46" x2="72.24" y2="298.46" stroke="#9a9a9a" stroke-width="0.9" />
<line x1="83.61" y1="314.80" x2="83.61" y2="305.53" stroke="#9a9a9a" stroke-width="0.9" />
<line x1="81.21" y1="305.53" x2="86.01" y2="305.53" stroke="#9a9a9a" stroke-width="0.9" />
<line x1="97.38" y1="310.17" x2="97.38" y2="305.97" stroke="#9a9a9a" stroke-width="0.9" />
<line x1="94.98" y1="305.97" x2="99.78" y2="305.97" stroke="#9a9a9a" stroke-width="0.9" />
<line x1="111.15" y1="306.86" x2="111.15" y2="295.82" stroke="#9a9a9a" stroke-width="0.9" />
<line x1="108.75" y1="295.82" x2="113.55" y2="295.82" stroke="#9a9a9a" stroke-width="0.9" />
<line x1="124.92" y1="306.41" x2="124.92" y2="295.82" stroke="#9a9a9a" stroke-width="0.9" />
<line x1="122.52" y1="295.82" x2="127.32" y2="295.82" stroke="#9a9a9a" stroke-width="0.9" />
<line x1="138.69" y1="304.65" x2="138.69" y2="291.40" stroke="#9a9a9a" stroke-width="0.9" />
<line x1="136.29" y1="291.40" x2="141.09" y2="291.40" stroke="#9a9a9a" stroke-width="0.9" />
<line x1="152.46" y1="299.35" x2="152.46" y2="278.15" stroke="#9a9a9a" stroke-width="0.9" />
<line x1="150.06" y1="278.15" x2="154.86" y2="278.15" stroke="#9a9a9a" stroke-width="0.9" />
<line x1="166.23" y1="294.27" x2="166.23" y2="268.66" stroke="#9a9a9a" stroke-width="0.9" />
<line x1="163.83" y1="268.66" x2="168.63" y2="268.66" stroke="#9a9a9a" stroke-width="0.9" />
<line x1="180.00" y1="290.96" x2="180.00" y2="265.57" stroke="#9a9a9a" stroke-width="0.9" />
<line x1="177.60" y1="265.57" x2="182.40" y2="265.57" stroke="#9a9a9a" stroke-width="0.9" />
<line x1="193.77" y1="280.58" x2="193.77" y2="247.68" stroke="#9a9a9a" stroke-width="0.9" />
<line x1="191.37" y1="247.68" x2="196.17" y2="247.68" stroke="#9a9a9a" stroke-width="0.9" />
<line x1="207.54" y1="283.23" x2="207.54" y2="251.21" stroke="#9a9a9a" stroke-width="0.9" />
<line x1="205.14" y1="251.21" x2="209.94" y2="251.21" stroke="#9a9a9a" stroke-width="0.9" />
<line x1="56.07" y1="315.25" x2="56.07" y2="310.83" stroke="#8a9ccf" stroke-width="0.9" />
<line x1="53.67" y1="310.83" x2="58.47" y2="310.83" stroke="#8a9ccf" stroke-width="0.9" />
<line x1="69.84" y1="311.93" x2="69.84" y2="307.74" stroke="#8a9ccf" stroke-width="0.9" />
<line x1="67.44" y1="307.74" x2="72.24" y2="307.74" stroke="#8a9ccf" stroke-width="0.9" />
<line x1="83.61" y1="313.48" x2="83.61" y2="307.74" stroke="#8a9ccf" stroke-width="0.9" />
<line x1="81.21" y1="307.74" x2="86.01" y2="307.74" stroke="#8a9ccf" stroke-width="0.9" />
<line x1="97.38" y1="310.83" x2="97.38" y2="304.43" stroke="#8a9ccf" stroke-width="0.9" />
<line x1="94.98" y1="304.43" x2="99.78" y2="304.43" stroke="#8a9ccf" stroke-width="0.9" />
<line x1="111.15" y1="309.95" x2="111.15" y2="304.87" stroke="#8a9ccf" stroke-width="0.9" />
<line x1="108.75" y1="304.87" x2="113.55" y2="304.87" stroke="#8a9ccf" stroke-width="0.9" />
<line x1="124.92" y1="305.75" x2="124.92" y2="299.79" stroke="#8a9ccf" stroke-width="0.9" />
<line x1="122.52" y1="299.79" x2="127.32" y2="299.79" stroke="#8a9ccf" stroke-width="0.9" />
<line x1="138.69" y1="304.65" x2="138.69" y2="294.93" stroke="#8a9ccf" stroke-width="0.9" />
<line x1="136.29" y1="294.93" x2="141.09" y2="294.93" stroke="#8a9ccf" stroke-width="0.9" />
<line x1="152.46" y1="303.98" x2="152.46" y2="297.14" stroke="#8a9ccf" stroke-width="0.9" />
<line x1="150.06" y1="297.14" x2="154.86" y2="297.14" stroke="#8a9ccf" stroke-width="0.9" />
<line x1="166.23" y1="299.35" x2="166.23" y2="285.22" stroke="#8a9ccf" stroke-width="0.9" />
<line x1="163.83" y1="285.22" x2="168.63" y2="285.22" stroke="#8a9ccf" stroke-width="0.9" />
<line x1="180.00" y1="297.36" x2="180.00" y2="284.33" stroke="#8a9ccf" stroke-width="0.9" />
<line x1="177.60" y1="284.33" x2="182.40" y2="284.33" stroke="#8a9ccf" stroke-width="0.9" />
<line x1="193.77" y1="280.58" x2="193.77" y2="239.07" stroke="#8a9ccf" stroke-width="0.9" />
<line x1="191.37" y1="239.07" x2="196.17" y2="239.07" stroke="#8a9ccf" stroke-width="0.9" />
<line x1="207.54" y1="280.80" x2="207.54" y2="243.49" stroke="#8a9ccf" stroke-width="0.9" />
<line x1="205.14" y1="243.49" x2="209.94" y2="243.49" stroke="#8a9ccf" stroke-width="0.9" />
<line x1="56.07" y1="317.90" x2="56.07" y2="314.80" stroke="#e894ab" stroke-width="0.9" />
<line x1="53.67" y1="314.80" x2="58.47" y2="314.80" stroke="#e894ab" stroke-width="0.9" />
<line x1="69.84" y1="310.61" x2="69.84" y2="301.78" stroke="#e894ab" stroke-width="0.9" />
<line x1="67.44" y1="301.78" x2="72.24" y2="301.78" stroke="#e894ab" stroke-width="0.9" />
<line x1="83.61" y1="312.82" x2="83.61" y2="308.18" stroke="#e894ab" stroke-width="0.9" />
<line x1="81.21" y1="308.18" x2="86.01" y2="308.18" stroke="#e894ab" stroke-width="0.9" />
<line x1="97.38" y1="308.18" x2="97.38" y2="297.80" stroke="#e894ab" stroke-width="0.9" />
<line x1="94.98" y1="297.80" x2="99.78" y2="297.80" stroke="#e894ab" stroke-width="0.9" />
<line x1="111.15" y1="310.61" x2="111.15" y2="304.43" stroke="#e894ab" stroke-width="0.9" />
<line x1="108.75" y1="304.43" x2="113.55" y2="304.43" stroke="#e894ab" stroke-width="0.9" />
<line x1="124.92" y1="307.30" x2="124.92" y2="298.46" stroke="#e894ab" stroke-width="0.9" />
<line x1="122.52" y1="298.46" x2="127.32" y2="298.46" stroke="#e894ab" stroke-width="0.9" />
<line x1="138.69" y1="304.65" x2="138.69" y2="294.05" stroke="#e894ab" stroke-width="0.9" />
<line x1="136.29" y1="294.05" x2="141.09" y2="294.05" stroke="#e894ab" stroke-width="0.9" />
<line x1="152.46" y1="303.32" x2="152.46" y2="294.27" stroke="#e894ab" stroke-width="0.9" />
<line x1="150.06" y1="294.27" x2="154.86" y2="294.27" stroke="#e894ab" stroke-width="0.9" />
<line x1="166.23" y1="306.86" x2="166.23" y2="303.76" stroke="#e894ab" stroke-width="0.9" />
<line x1="163.83" y1="303.76" x2="168.63" y2="303.76" stroke="#e894ab" stroke-width="0.9" />
<line x1="180.00" y1="318.12" x2="180.00" y2="312.38" stroke="#e894ab" stroke-width="0.9" />
<line x1="177.60" y1="312.38" x2="182.40" y2="312.38" stroke="#e894ab" stroke-width="0.9" />
<line x1="193.77" y1="326.95" x2="193.77" y2="320.77" stroke="#e894ab" stroke-width="0.9" />
<line x1="191.37" y1="320.77" x2="196.17" y2="320.77" stroke="#e894ab" stroke-width="0.9" />
<line x1="207.54" y1="334.01" x2="207.54" y2="330.04" stroke="#e894ab" stroke-width="0.9" />
<line x1="205.14" y1="330.04" x2="209.94" y2="330.04" stroke="#e894ab" stroke-width="0.9" />
<polyline points="42.30,319.22 56.07,319.44 69.84,311.49 83.61,314.80 97.38,310.17 111.15,306.86 124.92,306.41 138.69,304.65 152.46,299.35 166.23,294.27 180.00,290.96 193.77,280.58 207.54,283.23" stroke="#8e8e8e" stroke-width="0.9" fill="none" />
<circle cx="42.30" cy="319.22" r="1.90" fill="#8e8e8e"/>
<circle cx="56.07" cy="319.44" r="1.90" fill="#8e8e8e"/>
<circle cx="69.84" cy="311.49" r="1.90" fill="#8e8e8e"/>
<circle cx="83.61" cy="314.80" r="1.90" fill="#8e8e8e"/>
<circle cx="97.38" cy="310.17" r="1.90" fill="#8e8e8e"/>
<circle cx="111.15" cy="306.86" r="1.90" fill="#8e8e8e"/>
<circle cx="124.92" cy="306.41" r="1.90" fill="#8e8e8e"/>
<circle cx="138.69" cy="304.65" r="1.90" fill="#8e8e8e"/>
<circle cx="152.46" cy="299.35" r="1.90" fill="#8e8e8e"/>
<circle cx="166.23" cy="294.27" r="1.90" fill="#8e8e8e"/>
<circle cx="180.00" cy="290.96" r="1.90" fill="#8e8e8e"/>
<circle cx="193.77" cy="280.58" r="1.90" fill="#8e8e8e"/>
<circle cx="207.54" cy="283.23" r="1.90" fill="#8e8e8e"/>
<polyline points="42.30,319.22 56.07,315.25 69.84,311.93 83.61,313.48 97.38,310.83 111.15,309.95 124.92,305.75 138.69,304.65 152.46,303.98 166.23,299.35 180.00,297.36 193.77,280.58 207.54,280.80" stroke="#6f85c3" stroke-width="0.9" fill="none" />
<rect x="40.10" y="317.02" width="4.40" height="4.40" fill="#6f85c3"/>
<rect x="53.87" y="313.05" width="4.40" height="4.40" fill="#6f85c3"/>
<rect x="67.64" y="309.73" width="4.40" height="4.40" fill="#6f85c3"/>
<rect x="81.41" y="311.28" width="4.40" height="4.40" fill="#6f85c3"/>
<rect x="95.18" y="308.63" width="4.40" height="4.40" fill="#6f85c3"/>
<rect x="108.95" y="307.75" width="4.40" height="4.40" fill="#6f85c3"/>
<rect x="122.72" y="303.55" width="4.40" height="4.40" fill="#6f85c3"/>
<rect x="136.49" y="302.45" width="4.40" height="4.40" fill="#6f85c3"/>
<rect x="150.26" y="301.78" width="4.40" height="4.40" fill="#6f85c3"/>
<rect x="164.03" y="297.15" width="4.40" height="4.40" fill="#6f85c3"/>
<rect x="177.80" y="295.16" width="4.40" height="4.40" fill="#6f85c3"/>
<rect x="191.57" y="278.38" width="4.40" height="4.40" fill="#6f85c3"/>
<rect x="205.34" y="278.60" width="4.40" height="4.40" fill="#6f85c3"/>
<polyline points="42.30,319.22 56.07,317.90 69.84,310.61 83.61,312.82 97.38,308.18 111.15,310.61 124.92,307.30 138.69,304.65 152.46,303.32 166.23,306.86 180.00,318.12 193.77,326.95 207.54,334.01" stroke="#e17b98" stroke-width="0.9" fill="none" />
<polygon points="42.30,316.82 44.70,321.02 39.90,321.02" fill="#e17b98"/>
<polygon points="56.07,315.50 58.47,319.70 53.67,319.70" fill="#e17b98"/>
<polygon points="69.84,308.21 72.24,312.41 67.44,312.41" fill="#e17b98"/>
<polygon points="83.61,310.42 86.01,314.62 81.21,314.62" fill="#e17b98"/>
<polygon points="97.38,305.78 99.78,309.98 94.98,309.98" fill="#e17b98"/>
<polygon points="111.15,308.21 113.55,312.41 108.75,312.41" fill="#e17b98"/>
<polygon points="124.92,304.90 127.32,309.10 122.52,309.10" fill="#e17b98"/>
<polygon points="138.69,302.25 141.09,306.45 136.29,306.45" fill="#e17b98"/>
<polygon points="152.46,300.92 154.86,305.12 150.06,305.12" fill="#e17b98"/>
<polygon points="166.23,304.46 168.63,308.66 163.83,308.66" fill="#e17b98"/>
<polygon points="180.00,315.72 182.40,319.92 177.60,319.92" fill="#e17b98"/>
<polygon points="193.77,324.55 196.17,328.75 191.37,328.75" fill="#e17b98"/>
<polygon points="207.54,331.61 209.94,335.81 205.14,335.81" fill="#e17b98"/>
<line x1="42.30" y1="230.90" x2="42.30" y2="341.80" stroke="#8a8a8a" stroke-width="2" />
<line x1="41.80" y1="341.30" x2="207.54" y2="341.30" stroke="#1e1e1e" stroke-width="1" />
<line x1="39.30" y1="341.30" x2="42.30" y2="341.30" stroke="#1e1e1e" stroke-width="1" />
<text x="37.80" y="344.50" font-size="9" text-anchor="end" fill="#1a1a1a" stroke="#1a1a1a" stroke-width="0.10" font-weight="normal" font-style="normal" >0</text>
<line x1="39.30" y1="319.22" x2="42.30" y2="319.22" stroke="#1e1e1e" stroke-width="1" />
<text x="37.80" y="322.42" font-size="9" text-anchor="end" fill="#1a1a1a" stroke="#1a1a1a" stroke-width="0.10" font-weight="normal" font-style="normal" >1</text>
<line x1="39.30" y1="297.14" x2="42.30" y2="297.14" stroke="#1e1e1e" stroke-width="1" />
<text x="37.80" y="300.34" font-size="9" text-anchor="end" fill="#1a1a1a" stroke="#1a1a1a" stroke-width="0.10" font-weight="normal" font-style="normal" >2</text>
<line x1="39.30" y1="275.06" x2="42.30" y2="275.06" stroke="#1e1e1e" stroke-width="1" />
<text x="37.80" y="278.26" font-size="9" text-anchor="end" fill="#1a1a1a" stroke="#1a1a1a" stroke-width="0.10" font-weight="normal" font-style="normal" >3</text>
<line x1="39.30" y1="252.98" x2="42.30" y2="252.98" stroke="#1e1e1e" stroke-width="1" />
<text x="37.80" y="256.18" font-size="9" text-anchor="end" fill="#1a1a1a" stroke="#1a1a1a" stroke-width="0.10" font-weight="normal" font-style="normal" >4</text>
<line x1="39.30" y1="230.90" x2="42.30" y2="230.90" stroke="#1e1e1e" stroke-width="1" />
<text x="37.80" y="234.10" font-size="9" text-anchor="end" fill="#1a1a1a" stroke="#1a1a1a" stroke-width="0.10" font-weight="normal" font-style="normal" >5</text>
<line x1="42.30" y1="341.30" x2="42.30" y2="344.30" stroke="#1e1e1e" stroke-width="1" />
<text x="42.30" y="353.80" font-size="9" text-anchor="middle" fill="#1a1a1a" stroke="#1a1a1a" stroke-width="0.10" font-weight="normal" font-style="normal" >0</text>
<line x1="56.07" y1="341.30" x2="56.07" y2="344.30" stroke="#1e1e1e" stroke-width="1" />
<text x="56.07" y="353.80" font-size="9" text-anchor="middle" fill="#1a1a1a" stroke="#1a1a1a" stroke-width="0.10" font-weight="normal" font-style="normal" >1</text>
<line x1="69.84" y1="341.30" x2="69.84" y2="344.30" stroke="#1e1e1e" stroke-width="1" />
<text x="69.84" y="353.80" font-size="9" text-anchor="middle" fill="#1a1a1a" stroke="#1a1a1a" stroke-width="0.10" font-weight="normal" font-style="normal" >2</text>
<line x1="83.61" y1="341.30" x2="83.61" y2="344.30" stroke="#1e1e1e" stroke-width="1" />
<text x="83.61" y="353.80" font-size="9" text-anchor="middle" fill="#1a1a1a" stroke="#1a1a1a" stroke-width="0.10" font-weight="normal" font-style="normal" >3</text>
<line x1="97.38" y1="341.30" x2="97.38" y2="344.30" stroke="#1e1e1e" stroke-width="1" />
<text x="97.38" y="353.80" font-size="9" text-anchor="middle" fill="#1a1a1a" stroke="#1a1a1a" stroke-width="0.10" font-weight="normal" font-style="normal" >4</text>
<line x1="111.15" y1="341.30" x2="111.15" y2="344.30" stroke="#1e1e1e" stroke-width="1" />
<text x="111.15" y="353.80" font-size="9" text-anchor="middle" fill="#1a1a1a" stroke="#1a1a1a" stroke-width="0.10" font-weight="normal" font-style="normal" >5</text>
<line x1="124.92" y1="341.30" x2="124.92" y2="344.30" stroke="#1e1e1e" stroke-width="1" />
<text x="124.92" y="353.80" font-size="9" text-anchor="middle" fill="#1a1a1a" stroke="#1a1a1a" stroke-width="0.10" font-weight="normal" font-style="normal" >6</text>
<line x1="138.69" y1="341.30" x2="138.69" y2="344.30" stroke="#1e1e1e" stroke-width="1" />
<text x="138.69" y="353.80" font-size="9" text-anchor="middle" fill="#1a1a1a" stroke="#1a1a1a" stroke-width="0.10" font-weight="normal" font-style="normal" >7</text>
<line x1="152.46" y1="341.30" x2="152.46" y2="344.30" stroke="#1e1e1e" stroke-width="1" />
<text x="152.46" y="353.80" font-size="9" text-anchor="middle" fill="#1a1a1a" stroke="#1a1a1a" stroke-width="0.10" font-weight="normal" font-style="normal" >8</text>
<line x1="166.23" y1="341.30" x2="166.23" y2="344.30" stroke="#1e1e1e" stroke-width="1" />
<text x="166.23" y="353.80" font-size="9" text-anchor="middle" fill="#1a1a1a" stroke="#1a1a1a" stroke-width="0.10" font-weight="normal" font-style="normal" >9</text>
<line x1="180.00" y1="341.30" x2="180.00" y2="344.30" stroke="#1e1e1e" stroke-width="1" />
<text x="180.00" y="353.80" font-size="9" text-anchor="middle" fill="#1a1a1a" stroke="#1a1a1a" stroke-width="0.10" font-weight="normal" font-style="normal" >10</text>
<line x1="193.77" y1="341.30" x2="193.77" y2="344.30" stroke="#1e1e1e" stroke-width="1" />
<text x="193.77" y="353.80" font-size="9" text-anchor="middle" fill="#1a1a1a" stroke="#1a1a1a" stroke-width="0.10" font-weight="normal" font-style="normal" >11</text>
<line x1="207.54" y1="341.30" x2="207.54" y2="344.30" stroke="#1e1e1e" stroke-width="1" />
<text x="207.54" y="353.80" font-size="9" text-anchor="middle" fill="#1a1a1a" stroke="#1a1a1a" stroke-width="0.10" font-weight="normal" font-style="normal" >12</text>
<text x="126.00" y="366.50" font-size="9" text-anchor="middle" fill="#1a1a1a" stroke="#1a1a1a" stroke-width="0.10" font-weight="normal" font-style="normal" >Time (weeks)</text>
<text x="0.00" y="0.00" font-size="9" text-anchor="middle" fill="#1a1a1a" stroke="#1a1a1a" stroke-width="0.10" font-weight="normal" font-style="normal" transform="translate(25.50,286.50) rotate(-90)">Relative fat mass</text>
<line x1="51.90" y1="218.60" x2="62.70" y2="218.60" stroke="#8e8e8e" stroke-width="0.9" />
<circle cx="57.30" cy="218.60" r="1.90" fill="#8e8e8e"/>
<text x="68.50" y="221.90" font-size="9" text-anchor="start" fill="#1a1a1a" stroke="#1a1a1a" stroke-width="0.10" font-weight="normal" font-style="normal" >WT</text>
<line x1="51.90" y1="230.90" x2="62.70" y2="230.90" stroke="#8a9ccf" stroke-width="0.9" />
<rect x="55.10" y="228.70" width="4.40" height="4.40" fill="#6f85c3"/>
<text x="68.50" y="234.20" font-size="9" text-anchor="start" fill="#1a1a1a" stroke="#1a1a1a" stroke-width="0.10" font-weight="normal" font-style="normal" >TLCS-P</text>
<line x1="51.90" y1="243.20" x2="62.70" y2="243.20" stroke="#e894ab" stroke-width="0.9" />
<polygon points="57.30,240.80 59.70,245.00 54.90,245.00" fill="#e17b98"/>
<text x="68.50" y="246.50" font-size="9" text-anchor="start" fill="#1a1a1a" stroke="#1a1a1a" stroke-width="0.10" font-weight="normal" font-style="normal" >TLCS-PP</text>
<path d="M108.70,217.60 H111.00 V229.50 H108.70" stroke="#222" stroke-width="0.95" fill="none"/>
<path d="M108.70,231.30 H111.00 V244.40 H108.70" stroke="#222" stroke-width="0.95" fill="none"/>
<text x="113.00" y="225.95" font-size="6.6" text-anchor="start" fill="#3a3a3a" stroke="#3a3a3a" stroke-width="0.07" font-weight="normal" font-style="normal" >p=0.9763</text>
<text x="113.00" y="239.65" font-size="6.6" text-anchor="start" fill="#3a3a3a" stroke="#3a3a3a" stroke-width="0.07" font-weight="normal" font-style="normal" >p=0.0006</text>
<path d="M143.00,217.40 H145.60 V244.40 H143.00" stroke="#222" stroke-width="0.95" fill="none"/>
<text x="147.30" y="232.95" font-size="6.6" text-anchor="start" fill="#3a3a3a" stroke="#3a3a3a" stroke-width="0.07" font-weight="normal" font-style="normal" >p=0.0011</text>
<rect x="488.40" y="284.47" width="20.20" height="47.83" fill="#c4d4e5" stroke="#1e1e1e" stroke-width="1"/>
<rect x="519.20" y="309.99" width="20.20" height="22.31" fill="#fff" stroke="#1e1e1e" stroke-width="1"/>
<line x1="498.50" y1="261.94" x2="498.50" y2="306.77" stroke="#1e1e1e" stroke-width="1.2" />
<line x1="493.20" y1="261.94" x2="503.80" y2="261.94" stroke="#1e1e1e" stroke-width="1.2" />
<line x1="493.20" y1="306.77" x2="503.80" y2="306.77" stroke="#1e1e1e" stroke-width="1.2" />
<line x1="529.40" y1="300.12" x2="529.40" y2="318.79" stroke="#1e1e1e" stroke-width="1.2" />
<line x1="524.10" y1="300.12" x2="534.70" y2="300.12" stroke="#1e1e1e" stroke-width="1.2" />
<line x1="524.10" y1="318.79" x2="534.70" y2="318.79" stroke="#1e1e1e" stroke-width="1.2" />
<circle cx="498.50" cy="253.36" r="1.50" fill="#fff" stroke="#1a1a1a" stroke-width="0.8"/>
<circle cx="498.50" cy="274.38" r="1.50" fill="#fff" stroke="#1a1a1a" stroke-width="0.8"/>
<circle cx="498.50" cy="282.54" r="1.50" fill="#fff" stroke="#1a1a1a" stroke-width="0.8"/>
<circle cx="498.50" cy="301.84" r="1.50" fill="#fff" stroke="#1a1a1a" stroke-width="0.8"/>
<circle cx="498.50" cy="309.99" r="1.50" fill="#fff" stroke="#1a1a1a" stroke-width="0.8"/>
<circle cx="525.90" cy="299.48" r="1.50" fill="#fff" stroke="#1a1a1a" stroke-width="0.8"/>
<circle cx="532.80" cy="299.48" r="1.50" fill="#fff" stroke="#1a1a1a" stroke-width="0.8"/>
<circle cx="529.40" cy="305.49" r="1.50" fill="#fff" stroke="#1a1a1a" stroke-width="0.8"/>
<circle cx="525.90" cy="310.85" r="1.50" fill="#fff" stroke="#1a1a1a" stroke-width="0.8"/>
<circle cx="532.80" cy="309.99" r="1.50" fill="#fff" stroke="#1a1a1a" stroke-width="0.8"/>
<circle cx="525.90" cy="322.43" r="1.50" fill="#fff" stroke="#1a1a1a" stroke-width="0.8"/>
<circle cx="532.80" cy="320.29" r="1.50" fill="#fff" stroke="#1a1a1a" stroke-width="0.8"/>
<line x1="478.40" y1="225.05" x2="478.40" y2="332.80" stroke="#1e1e1e" stroke-width="1" />
<line x1="474.90" y1="332.30" x2="549.70" y2="332.30" stroke="#1e1e1e" stroke-width="1" />
<line x1="474.90" y1="332.30" x2="478.40" y2="332.30" stroke="#1e1e1e" stroke-width="1" />
<text x="472.90" y="335.50" font-size="9" text-anchor="end" fill="#1a1a1a" stroke="#1a1a1a" stroke-width="0.10" font-weight="normal" font-style="normal" >0</text>
<line x1="474.90" y1="310.85" x2="478.40" y2="310.85" stroke="#1e1e1e" stroke-width="1" />
<text x="472.90" y="314.05" font-size="9" text-anchor="end" fill="#1a1a1a" stroke="#1a1a1a" stroke-width="0.10" font-weight="normal" font-style="normal" >10</text>
<line x1="474.90" y1="289.40" x2="478.40" y2="289.40" stroke="#1e1e1e" stroke-width="1" />
<text x="472.90" y="292.60" font-size="9" text-anchor="end" fill="#1a1a1a" stroke="#1a1a1a" stroke-width="0.10" font-weight="normal" font-style="normal" >20</text>
<line x1="474.90" y1="267.95" x2="478.40" y2="267.95" stroke="#1e1e1e" stroke-width="1" />
<text x="472.90" y="271.15" font-size="9" text-anchor="end" fill="#1a1a1a" stroke="#1a1a1a" stroke-width="0.10" font-weight="normal" font-style="normal" >30</text>
<line x1="474.90" y1="246.50" x2="478.40" y2="246.50" stroke="#1e1e1e" stroke-width="1" />
<text x="472.90" y="249.70" font-size="9" text-anchor="end" fill="#1a1a1a" stroke="#1a1a1a" stroke-width="0.10" font-weight="normal" font-style="normal" >40</text>
<line x1="474.90" y1="225.05" x2="478.40" y2="225.05" stroke="#1e1e1e" stroke-width="1" />
<text x="472.90" y="228.25" font-size="9" text-anchor="end" fill="#1a1a1a" stroke="#1a1a1a" stroke-width="0.10" font-weight="normal" font-style="normal" >50</text>
<line x1="498.50" y1="332.30" x2="498.50" y2="335.30" stroke="#1e1e1e" stroke-width="1" />
<text x="0.00" y="0.00" font-size="9" text-anchor="end" fill="#1a1a1a" stroke="#1a1a1a" stroke-width="0.10" font-weight="normal" font-style="normal" transform="translate(501.30,340.30) rotate(-45)">Vehicle</text>
<line x1="529.40" y1="332.30" x2="529.40" y2="335.30" stroke="#1e1e1e" stroke-width="1" />
<text x="0.00" y="0.00" font-size="9" text-anchor="end" fill="#1a1a1a" stroke="#1a1a1a" stroke-width="0.10" font-weight="normal" font-style="normal" transform="translate(532.20,340.30) rotate(-45)">Chemo</text>
<text x="0.00" y="0.00" font-size="9" text-anchor="middle" fill="#1a1a1a" stroke="#1a1a1a" stroke-width="0.10" font-weight="normal" font-style="normal" transform="translate(456.50,278.10) rotate(-90)">Tumor burden (%)</text>
<text x="514.00" y="238.80" font-size="6.6" text-anchor="middle" fill="#3a3a3a" stroke="#3a3a3a" stroke-width="0.07" font-weight="normal" font-style="normal" >p=0.0209</text>
<rect x="624.10" y="282.52" width="20.00" height="49.78" fill="#c4d4e5" stroke="#555" stroke-width="1"/>
<rect x="654.40" y="306.05" width="20.10" height="26.25" fill="#fff" stroke="#1e1e1e" stroke-width="1"/>
<line x1="634.10" y1="264.42" x2="634.10" y2="300.47" stroke="#777" stroke-width="1.2" />
<line x1="628.80" y1="264.42" x2="639.40" y2="264.42" stroke="#777" stroke-width="1.2" />
<line x1="628.80" y1="300.47" x2="639.40" y2="300.47" stroke="#777" stroke-width="1.2" />
<line x1="664.40" y1="296.25" x2="664.40" y2="315.35" stroke="#1e1e1e" stroke-width="1.2" />
<line x1="659.10" y1="296.25" x2="669.70" y2="296.25" stroke="#1e1e1e" stroke-width="1.2" />
<line x1="659.10" y1="315.35" x2="669.70" y2="315.35" stroke="#1e1e1e" stroke-width="1.2" />
<circle cx="634.10" cy="264.63" r="1.50" fill="#fff" stroke="#1a1a1a" stroke-width="0.8"/>
<circle cx="634.10" cy="268.14" r="1.50" fill="#fff" stroke="#1a1a1a" stroke-width="0.8"/>
<circle cx="634.10" cy="279.80" r="1.50" fill="#fff" stroke="#1a1a1a" stroke-width="0.8"/>
<circle cx="634.10" cy="291.10" r="1.50" fill="#fff" stroke="#1a1a1a" stroke-width="0.8"/>
<circle cx="634.10" cy="309.20" r="1.50" fill="#fff" stroke="#1a1a1a" stroke-width="0.8"/>
<circle cx="664.40" cy="290.53" r="1.50" fill="#fff" stroke="#1a1a1a" stroke-width="0.8"/>
<circle cx="661.00" cy="300.11" r="1.50" fill="#fff" stroke="#1a1a1a" stroke-width="0.8"/>
<circle cx="667.80" cy="301.04" r="1.50" fill="#fff" stroke="#1a1a1a" stroke-width="0.8"/>
<circle cx="667.80" cy="306.62" r="1.50" fill="#fff" stroke="#1a1a1a" stroke-width="0.8"/>
<circle cx="661.00" cy="309.41" r="1.50" fill="#fff" stroke="#1a1a1a" stroke-width="0.8"/>
<circle cx="667.80" cy="311.13" r="1.50" fill="#fff" stroke="#1a1a1a" stroke-width="0.8"/>
<circle cx="664.40" cy="321.28" r="1.50" fill="#fff" stroke="#1a1a1a" stroke-width="0.8"/>
<line x1="613.40" y1="225.00" x2="613.40" y2="332.80" stroke="#1e1e1e" stroke-width="1" />
<line x1="609.90" y1="332.30" x2="684.50" y2="332.30" stroke="#1e1e1e" stroke-width="1" />
<line x1="609.90" y1="332.30" x2="613.40" y2="332.30" stroke="#1e1e1e" stroke-width="1" />
<text x="607.90" y="335.50" font-size="9" text-anchor="end" fill="#1a1a1a" stroke="#1a1a1a" stroke-width="0.10" font-weight="normal" font-style="normal" >0</text>
<line x1="609.90" y1="296.54" x2="613.40" y2="296.54" stroke="#1e1e1e" stroke-width="1" />
<text x="607.90" y="299.74" font-size="9" text-anchor="end" fill="#1a1a1a" stroke="#1a1a1a" stroke-width="0.10" font-weight="normal" font-style="normal" >50</text>
<line x1="609.90" y1="260.77" x2="613.40" y2="260.77" stroke="#1e1e1e" stroke-width="1" />
<text x="607.90" y="263.97" font-size="9" text-anchor="end" fill="#1a1a1a" stroke="#1a1a1a" stroke-width="0.10" font-weight="normal" font-style="normal" >100</text>
<line x1="609.90" y1="225.00" x2="613.40" y2="225.00" stroke="#1e1e1e" stroke-width="1" />
<text x="607.90" y="228.20" font-size="9" text-anchor="end" fill="#1a1a1a" stroke="#1a1a1a" stroke-width="0.10" font-weight="normal" font-style="normal" >150</text>
<line x1="634.10" y1="332.30" x2="634.10" y2="335.30" stroke="#1e1e1e" stroke-width="1" />
<text x="0.00" y="0.00" font-size="9" text-anchor="end" fill="#1a1a1a" stroke="#1a1a1a" stroke-width="0.10" font-weight="normal" font-style="normal" transform="translate(636.90,340.30) rotate(-45)">Vehicle</text>
<line x1="664.40" y1="332.30" x2="664.40" y2="335.30" stroke="#1e1e1e" stroke-width="1" />
<text x="0.00" y="0.00" font-size="9" text-anchor="end" fill="#1a1a1a" stroke="#1a1a1a" stroke-width="0.10" font-weight="normal" font-style="normal" transform="translate(667.20,340.30) rotate(-45)">Chemo</text>
<text x="0.00" y="0.00" font-size="9" text-anchor="middle" fill="#1a1a1a" stroke="#1a1a1a" stroke-width="0.10" font-weight="normal" font-style="normal" transform="translate(587.00,278.90) rotate(-90)">Tumor number</text>
<text x="649.00" y="238.80" font-size="6.6" text-anchor="middle" fill="#3a3a3a" stroke="#3a3a3a" stroke-width="0.07" font-weight="normal" font-style="normal" >p=0.0149</text>
<path d="M93.50,447.00 V417.10 H149.60 V424.50" stroke="#5e6b7e" stroke-width="1.15" fill="none"/>
<path d="M121.50,447.00 V440.50 H149.60 V514.50" stroke="#5e6b7e" stroke-width="1.15" fill="none"/>
<path d="M93.50,469.70 V462.70 H121.50 V499.10" stroke="#5e6b7e" stroke-width="1.15" fill="none"/>
<text x="121.90" y="415.80" font-size="6.6" text-anchor="middle" fill="#3a3a3a" stroke="#3a3a3a" stroke-width="0.07" font-weight="normal" font-style="normal" >p&lt;0.0001</text>
<text x="135.60" y="439.00" font-size="6.6" text-anchor="middle" fill="#3a3a3a" stroke="#3a3a3a" stroke-width="0.07" font-weight="normal" font-style="normal" >p=0.0001</text>
<text x="107.60" y="461.60" font-size="6.6" text-anchor="middle" fill="#3a3a3a" stroke="#3a3a3a" stroke-width="0.07" font-weight="normal" font-style="normal" >p&lt;0.0001</text>
<line x1="93.40" y1="478.80" x2="93.40" y2="490.00" stroke="#1e1e1e" stroke-width="0.9" />
<line x1="88.70" y1="478.80" x2="98.10" y2="478.80" stroke="#1e1e1e" stroke-width="0.9" />
<line x1="88.70" y1="490.00" x2="98.10" y2="490.00" stroke="#1e1e1e" stroke-width="0.9" />
<line x1="121.50" y1="504.90" x2="121.50" y2="517.60" stroke="#1e1e1e" stroke-width="0.9" />
<line x1="116.80" y1="504.90" x2="126.20" y2="504.90" stroke="#1e1e1e" stroke-width="0.9" />
<line x1="116.80" y1="517.60" x2="126.20" y2="517.60" stroke="#1e1e1e" stroke-width="0.9" />
<line x1="149.40" y1="523.90" x2="149.40" y2="534.30" stroke="#1e1e1e" stroke-width="0.9" />
<line x1="144.70" y1="523.90" x2="154.10" y2="523.90" stroke="#1e1e1e" stroke-width="0.9" />
<line x1="144.70" y1="534.30" x2="154.10" y2="534.30" stroke="#1e1e1e" stroke-width="0.9" />
<line x1="84.10" y1="484.80" x2="102.70" y2="484.80" stroke="#1e1e1e" stroke-width="0.9" />
<line x1="112.20" y1="511.60" x2="130.80" y2="511.60" stroke="#1e1e1e" stroke-width="0.9" />
<line x1="140.10" y1="527.20" x2="158.70" y2="527.20" stroke="#1e1e1e" stroke-width="0.9" />
<circle cx="93.60" cy="476.40" r="2.2" fill="#acacac" stroke="#1c1c1c" stroke-width="0.85"/>
<circle cx="100.70" cy="480.40" r="2.2" fill="#acacac" stroke="#1c1c1c" stroke-width="0.85"/>
<circle cx="86.40" cy="485.10" r="2.2" fill="#acacac" stroke="#1c1c1c" stroke-width="0.85"/>
<circle cx="93.60" cy="486.70" r="2.2" fill="#acacac" stroke="#1c1c1c" stroke-width="0.85"/>
<circle cx="100.70" cy="486.00" r="2.2" fill="#acacac" stroke="#1c1c1c" stroke-width="0.85"/>
<circle cx="93.60" cy="492.20" r="2.2" fill="#acacac" stroke="#1c1c1c" stroke-width="0.85"/>
<circle cx="117.20" cy="505.80" r="2.2" fill="#babde0" stroke="#1c1c1c" stroke-width="0.85"/>
<circle cx="126.20" cy="506.50" r="2.2" fill="#babde0" stroke="#1c1c1c" stroke-width="0.85"/>
<circle cx="117.20" cy="512.10" r="2.2" fill="#babde0" stroke="#1c1c1c" stroke-width="0.85"/>
<circle cx="126.20" cy="512.10" r="2.2" fill="#babde0" stroke="#1c1c1c" stroke-width="0.85"/>
<circle cx="121.70" cy="519.80" r="2.2" fill="#babde0" stroke="#1c1c1c" stroke-width="0.85"/>
<circle cx="149.60" cy="521.20" r="2.2" fill="#babde0" stroke="#1c1c1c" stroke-width="0.85"/>
<circle cx="142.50" cy="527.60" r="2.2" fill="#babde0" stroke="#1c1c1c" stroke-width="0.85"/>
<circle cx="152.20" cy="527.60" r="2.2" fill="#babde0" stroke="#1c1c1c" stroke-width="0.85"/>
<circle cx="156.90" cy="528.10" r="2.2" fill="#babde0" stroke="#1c1c1c" stroke-width="0.85"/>
<circle cx="147.60" cy="530.20" r="2.2" fill="#babde0" stroke="#1c1c1c" stroke-width="0.85"/>
<circle cx="152.20" cy="533.20" r="2.2" fill="#babde0" stroke="#1c1c1c" stroke-width="0.85"/>
<circle cx="149.60" cy="537.90" r="2.2" fill="#babde0" stroke="#1c1c1c" stroke-width="0.85"/>
<line x1="75.00" y1="439.30" x2="75.00" y2="552.80" stroke="#8c8c8c" stroke-width="1.9" />
<line x1="72.00" y1="552.30" x2="168.60" y2="552.30" stroke="#1e1e1e" stroke-width="1" />
<line x1="72.00" y1="552.20" x2="75.00" y2="552.20" stroke="#8c8c8c" stroke-width="1" />
<text x="70.50" y="555.40" font-size="9" text-anchor="end" fill="#1a1a1a" stroke="#1a1a1a" stroke-width="0.10" font-weight="normal" font-style="normal" >0.4</text>
<line x1="72.00" y1="529.62" x2="75.00" y2="529.62" stroke="#8c8c8c" stroke-width="1" />
<text x="70.50" y="532.82" font-size="9" text-anchor="end" fill="#1a1a1a" stroke="#1a1a1a" stroke-width="0.10" font-weight="normal" font-style="normal" >0.6</text>
<line x1="72.00" y1="507.04" x2="75.00" y2="507.04" stroke="#8c8c8c" stroke-width="1" />
<text x="70.50" y="510.24" font-size="9" text-anchor="end" fill="#1a1a1a" stroke="#1a1a1a" stroke-width="0.10" font-weight="normal" font-style="normal" >0.8</text>
<line x1="72.00" y1="484.46" x2="75.00" y2="484.46" stroke="#8c8c8c" stroke-width="1" />
<text x="70.50" y="487.66" font-size="9" text-anchor="end" fill="#1a1a1a" stroke="#1a1a1a" stroke-width="0.10" font-weight="normal" font-style="normal" >1.0</text>
<line x1="72.00" y1="461.88" x2="75.00" y2="461.88" stroke="#8c8c8c" stroke-width="1" />
<text x="70.50" y="465.08" font-size="9" text-anchor="end" fill="#1a1a1a" stroke="#1a1a1a" stroke-width="0.10" font-weight="normal" font-style="normal" >1.2</text>
<line x1="72.00" y1="439.30" x2="75.00" y2="439.30" stroke="#8c8c8c" stroke-width="1" />
<text x="70.50" y="442.50" font-size="9" text-anchor="end" fill="#1a1a1a" stroke="#1a1a1a" stroke-width="0.10" font-weight="normal" font-style="normal" >1.4</text>
<line x1="93.40" y1="552.30" x2="93.40" y2="555.30" stroke="#1e1e1e" stroke-width="1" />
<text x="0.00" y="0.00" font-size="9" text-anchor="end" fill="#1a1a1a" stroke="#1a1a1a" stroke-width="0.10" font-weight="normal" font-style="normal" transform="translate(96.20,559.90) rotate(-45)">WT Ctrl</text>
<line x1="121.50" y1="552.30" x2="121.50" y2="555.30" stroke="#1e1e1e" stroke-width="1" />
<text x="0.00" y="0.00" font-size="9" text-anchor="end" fill="#1a1a1a" stroke="#1a1a1a" stroke-width="0.10" font-weight="normal" font-style="normal" transform="translate(124.30,559.90) rotate(-45)">Vehicle</text>
<line x1="149.40" y1="552.30" x2="149.40" y2="555.30" stroke="#1e1e1e" stroke-width="1" />
<text x="0.00" y="0.00" font-size="9" text-anchor="end" fill="#1a1a1a" stroke="#1a1a1a" stroke-width="0.10" font-weight="normal" font-style="normal" transform="translate(152.20,559.90) rotate(-45)">Chemo</text>
<text x="0.00" y="0.00" font-size="9" text-anchor="middle" fill="#1a1a1a" stroke="#1a1a1a" stroke-width="0.10" font-weight="normal" font-style="normal" transform="translate(50.70,496.00) rotate(-90)">Relative GAST</text>
<line x1="97.10" y1="584.70" x2="140.60" y2="584.70" stroke="#8a8a8a" stroke-width="1.3" />
<text x="118.85" y="596.80" font-size="9.2" text-anchor="middle" fill="#1a1a1a" stroke="#1a1a1a" stroke-width="0.10" font-weight="normal" font-style="normal" >TLCS-PP</text>
<path d="M254.60,439.20 V432.20 H310.20 V439.20" stroke="#5e6b7e" stroke-width="1.15" fill="none"/>
<path d="M254.60,460.30 V455.20 H280.20 V482.70" stroke="#5e6b7e" stroke-width="1.15" fill="none"/>
<path d="M284.40,482.70 V455.20 H310.20 V503.40" stroke="#5e6b7e" stroke-width="1.15" fill="none"/>
<text x="282.20" y="431.00" font-size="6.6" text-anchor="middle" fill="#3a3a3a" stroke="#3a3a3a" stroke-width="0.07" font-weight="normal" font-style="normal" >p&lt;0.0001</text>
<text x="267.40" y="453.40" font-size="6.6" text-anchor="middle" fill="#3a3a3a" stroke="#3a3a3a" stroke-width="0.07" font-weight="normal" font-style="normal" >p=0.0019</text>
<text x="297.40" y="453.40" font-size="6.6" text-anchor="middle" fill="#3a3a3a" stroke="#3a3a3a" stroke-width="0.07" font-weight="normal" font-style="normal" >p=0.0027</text>
<line x1="254.60" y1="470.40" x2="254.60" y2="484.80" stroke="#1e1e1e" stroke-width="0.9" />
<line x1="249.90" y1="470.40" x2="259.30" y2="470.40" stroke="#1e1e1e" stroke-width="0.9" />
<line x1="249.90" y1="484.80" x2="259.30" y2="484.80" stroke="#1e1e1e" stroke-width="0.9" />
<line x1="282.50" y1="489.30" x2="282.50" y2="514.00" stroke="#1e1e1e" stroke-width="0.9" />
<line x1="277.80" y1="489.30" x2="287.20" y2="489.30" stroke="#1e1e1e" stroke-width="0.9" />
<line x1="277.80" y1="514.00" x2="287.20" y2="514.00" stroke="#1e1e1e" stroke-width="0.9" />
<line x1="310.20" y1="515.50" x2="310.20" y2="532.30" stroke="#1e1e1e" stroke-width="0.9" />
<line x1="305.50" y1="515.50" x2="314.90" y2="515.50" stroke="#1e1e1e" stroke-width="0.9" />
<line x1="305.50" y1="532.30" x2="314.90" y2="532.30" stroke="#1e1e1e" stroke-width="0.9" />
<line x1="245.30" y1="475.40" x2="263.90" y2="475.40" stroke="#1e1e1e" stroke-width="0.9" />
<line x1="273.20" y1="501.30" x2="291.80" y2="501.30" stroke="#1e1e1e" stroke-width="0.9" />
<line x1="300.90" y1="523.90" x2="319.50" y2="523.90" stroke="#1e1e1e" stroke-width="0.9" />
<circle cx="254.60" cy="468.00" r="2.2" fill="#acacac" stroke="#1c1c1c" stroke-width="0.85"/>
<circle cx="247.00" cy="475.40" r="2.2" fill="#acacac" stroke="#1c1c1c" stroke-width="0.85"/>
<circle cx="254.60" cy="475.00" r="2.2" fill="#acacac" stroke="#1c1c1c" stroke-width="0.85"/>
<circle cx="261.40" cy="475.40" r="2.2" fill="#acacac" stroke="#1c1c1c" stroke-width="0.85"/>
<circle cx="254.60" cy="482.20" r="2.2" fill="#acacac" stroke="#1c1c1c" stroke-width="0.85"/>
<circle cx="254.60" cy="489.30" r="2.2" fill="#acacac" stroke="#1c1c1c" stroke-width="0.85"/>
<circle cx="275.10" cy="491.40" r="2.2" fill="#babde0" stroke="#1c1c1c" stroke-width="0.85"/>
<circle cx="289.30" cy="491.80" r="2.2" fill="#babde0" stroke="#1c1c1c" stroke-width="0.85"/>
<circle cx="282.50" cy="495.60" r="2.2" fill="#babde0" stroke="#1c1c1c" stroke-width="0.85"/>
<circle cx="282.50" cy="508.80" r="2.2" fill="#babde0" stroke="#1c1c1c" stroke-width="0.85"/>
<circle cx="282.50" cy="519.90" r="2.2" fill="#babde0" stroke="#1c1c1c" stroke-width="0.85"/>
<circle cx="310.20" cy="509.70" r="2.2" fill="#babde0" stroke="#1c1c1c" stroke-width="0.85"/>
<circle cx="305.70" cy="518.00" r="2.2" fill="#babde0" stroke="#1c1c1c" stroke-width="0.85"/>
<circle cx="314.90" cy="521.50" r="2.2" fill="#babde0" stroke="#1c1c1c" stroke-width="0.85"/>
<circle cx="305.70" cy="523.20" r="2.2" fill="#babde0" stroke="#1c1c1c" stroke-width="0.85"/>
<circle cx="305.70" cy="527.70" r="2.2" fill="#babde0" stroke="#1c1c1c" stroke-width="0.85"/>
<circle cx="314.90" cy="531.40" r="2.2" fill="#babde0" stroke="#1c1c1c" stroke-width="0.85"/>
<circle cx="305.70" cy="534.90" r="2.2" fill="#babde0" stroke="#1c1c1c" stroke-width="0.85"/>
<line x1="236.00" y1="440.82" x2="236.00" y2="552.80" stroke="#8c8c8c" stroke-width="1.8" />
<line x1="233.00" y1="552.30" x2="328.60" y2="552.30" stroke="#1e1e1e" stroke-width="1" />
<line x1="233.00" y1="552.30" x2="236.00" y2="552.30" stroke="#8c8c8c" stroke-width="1" />
<text x="231.50" y="555.50" font-size="9" text-anchor="end" fill="#1a1a1a" stroke="#1a1a1a" stroke-width="0.10" font-weight="normal" font-style="normal" >0.6</text>
<line x1="233.00" y1="515.14" x2="236.00" y2="515.14" stroke="#8c8c8c" stroke-width="1" />
<text x="231.50" y="518.34" font-size="9" text-anchor="end" fill="#1a1a1a" stroke="#1a1a1a" stroke-width="0.10" font-weight="normal" font-style="normal" >0.8</text>
<line x1="233.00" y1="477.98" x2="236.00" y2="477.98" stroke="#8c8c8c" stroke-width="1" />
<text x="231.50" y="481.18" font-size="9" text-anchor="end" fill="#1a1a1a" stroke="#1a1a1a" stroke-width="0.10" font-weight="normal" font-style="normal" >1.0</text>
<line x1="233.00" y1="440.82" x2="236.00" y2="440.82" stroke="#8c8c8c" stroke-width="1" />
<text x="231.50" y="444.02" font-size="9" text-anchor="end" fill="#1a1a1a" stroke="#1a1a1a" stroke-width="0.10" font-weight="normal" font-style="normal" >1.2</text>
<line x1="254.60" y1="552.30" x2="254.60" y2="555.30" stroke="#1e1e1e" stroke-width="1" />
<text x="0.00" y="0.00" font-size="9" text-anchor="end" fill="#1a1a1a" stroke="#1a1a1a" stroke-width="0.10" font-weight="normal" font-style="normal" transform="translate(257.40,559.90) rotate(-45)">WT Ctrl</text>
<line x1="282.50" y1="552.30" x2="282.50" y2="555.30" stroke="#1e1e1e" stroke-width="1" />
<text x="0.00" y="0.00" font-size="9" text-anchor="end" fill="#1a1a1a" stroke="#1a1a1a" stroke-width="0.10" font-weight="normal" font-style="normal" transform="translate(285.30,559.90) rotate(-45)">Vehicle</text>
<line x1="310.20" y1="552.30" x2="310.20" y2="555.30" stroke="#1e1e1e" stroke-width="1" />
<text x="0.00" y="0.00" font-size="9" text-anchor="end" fill="#1a1a1a" stroke="#1a1a1a" stroke-width="0.10" font-weight="normal" font-style="normal" transform="translate(313.00,559.90) rotate(-45)">Chemo</text>
<text x="0.00" y="0.00" font-size="9" text-anchor="middle" fill="#1a1a1a" stroke="#1a1a1a" stroke-width="0.10" font-weight="normal" font-style="normal" transform="translate(210.80,496.30) rotate(-90)">Relative TA</text>
<line x1="258.50" y1="584.70" x2="302.00" y2="584.70" stroke="#8a8a8a" stroke-width="1.3" />
<text x="280.25" y="596.80" font-size="9.2" text-anchor="middle" fill="#1a1a1a" stroke="#1a1a1a" stroke-width="0.10" font-weight="normal" font-style="normal" >TLCS-PP</text>
<path d="M414.20,446.20 V439.20 H469.20 V443.80" stroke="#5e6b7e" stroke-width="1.15" fill="none"/>
<path d="M414.20,468.00 V461.30 H439.80 V486.40" stroke="#5e6b7e" stroke-width="1.15" fill="none"/>
<path d="M444.00,486.40 V461.30 H469.20 V506.00" stroke="#5e6b7e" stroke-width="1.15" fill="none"/>
<text x="441.40" y="438.00" font-size="6.6" text-anchor="middle" fill="#3a3a3a" stroke="#3a3a3a" stroke-width="0.07" font-weight="normal" font-style="normal" >p&lt;0.0001</text>
<text x="426.40" y="459.60" font-size="6.6" text-anchor="middle" fill="#3a3a3a" stroke="#3a3a3a" stroke-width="0.07" font-weight="normal" font-style="normal" >p=0.0018</text>
<text x="456.40" y="459.60" font-size="6.6" text-anchor="middle" fill="#3a3a3a" stroke="#3a3a3a" stroke-width="0.07" font-weight="normal" font-style="normal" >p=0.0001</text>
<line x1="414.20" y1="475.90" x2="414.20" y2="482.80" stroke="#1e1e1e" stroke-width="0.9" />
<line x1="409.50" y1="475.90" x2="418.90" y2="475.90" stroke="#1e1e1e" stroke-width="0.9" />
<line x1="409.50" y1="482.80" x2="418.90" y2="482.80" stroke="#1e1e1e" stroke-width="0.9" />
<line x1="441.80" y1="492.30" x2="441.80" y2="515.20" stroke="#1e1e1e" stroke-width="0.9" />
<line x1="437.10" y1="492.30" x2="446.50" y2="492.30" stroke="#1e1e1e" stroke-width="0.9" />
<line x1="437.10" y1="515.20" x2="446.50" y2="515.20" stroke="#1e1e1e" stroke-width="0.9" />
<line x1="468.80" y1="524.10" x2="468.80" y2="545.00" stroke="#1e1e1e" stroke-width="0.9" />
<line x1="464.10" y1="524.10" x2="473.50" y2="524.10" stroke="#1e1e1e" stroke-width="0.9" />
<line x1="464.10" y1="545.00" x2="473.50" y2="545.00" stroke="#1e1e1e" stroke-width="0.9" />
<line x1="404.90" y1="479.70" x2="423.50" y2="479.70" stroke="#1e1e1e" stroke-width="0.9" />
<line x1="432.50" y1="504.30" x2="451.10" y2="504.30" stroke="#1e1e1e" stroke-width="0.9" />
<line x1="459.50" y1="534.90" x2="478.10" y2="534.90" stroke="#1e1e1e" stroke-width="0.9" />
<circle cx="407.50" cy="475.90" r="2.2" fill="#acacac" stroke="#1c1c1c" stroke-width="0.85"/>
<circle cx="412.10" cy="474.20" r="2.2" fill="#acacac" stroke="#1c1c1c" stroke-width="0.85"/>
<circle cx="412.10" cy="479.70" r="2.2" fill="#acacac" stroke="#1c1c1c" stroke-width="0.85"/>
<circle cx="407.50" cy="483.70" r="2.2" fill="#acacac" stroke="#1c1c1c" stroke-width="0.85"/>
<circle cx="416.70" cy="482.60" r="2.2" fill="#acacac" stroke="#1c1c1c" stroke-width="0.85"/>
<circle cx="421.40" cy="482.60" r="2.2" fill="#acacac" stroke="#1c1c1c" stroke-width="0.85"/>
<circle cx="437.60" cy="492.30" r="2.2" fill="#babde0" stroke="#1c1c1c" stroke-width="0.85"/>
<circle cx="446.50" cy="496.00" r="2.2" fill="#babde0" stroke="#1c1c1c" stroke-width="0.85"/>
<circle cx="437.60" cy="500.10" r="2.2" fill="#babde0" stroke="#1c1c1c" stroke-width="0.85"/>
<circle cx="441.80" cy="511.00" r="2.2" fill="#babde0" stroke="#1c1c1c" stroke-width="0.85"/>
<circle cx="441.80" cy="519.90" r="2.2" fill="#babde0" stroke="#1c1c1c" stroke-width="0.85"/>
<circle cx="469.40" cy="512.30" r="2.2" fill="#babde0" stroke="#1c1c1c" stroke-width="0.85"/>
<circle cx="461.90" cy="533.60" r="2.2" fill="#babde0" stroke="#1c1c1c" stroke-width="0.85"/>
<circle cx="469.40" cy="534.90" r="2.2" fill="#babde0" stroke="#1c1c1c" stroke-width="0.85"/>
<circle cx="476.50" cy="535.30" r="2.2" fill="#babde0" stroke="#1c1c1c" stroke-width="0.85"/>
<circle cx="469.40" cy="540.00" r="2.2" fill="#babde0" stroke="#1c1c1c" stroke-width="0.85"/>
<circle cx="465.20" cy="544.50" r="2.2" fill="#babde0" stroke="#1c1c1c" stroke-width="0.85"/>
<circle cx="472.30" cy="544.50" r="2.2" fill="#babde0" stroke="#1c1c1c" stroke-width="0.85"/>
<line x1="396.50" y1="442.32" x2="396.50" y2="553.70" stroke="#3a3a3a" stroke-width="1.0" />
<line x1="393.50" y1="553.20" x2="487.00" y2="553.20" stroke="#1e1e1e" stroke-width="1" />
<line x1="393.50" y1="553.20" x2="396.50" y2="553.20" stroke="#3a3a3a" stroke-width="1" />
<text x="392.00" y="556.40" font-size="9" text-anchor="end" fill="#1a1a1a" stroke="#1a1a1a" stroke-width="0.10" font-weight="normal" font-style="normal" >0.6</text>
<line x1="393.50" y1="516.24" x2="396.50" y2="516.24" stroke="#3a3a3a" stroke-width="1" />
<text x="392.00" y="519.44" font-size="9" text-anchor="end" fill="#1a1a1a" stroke="#1a1a1a" stroke-width="0.10" font-weight="normal" font-style="normal" >0.8</text>
<line x1="393.50" y1="479.28" x2="396.50" y2="479.28" stroke="#3a3a3a" stroke-width="1" />
<text x="392.00" y="482.48" font-size="9" text-anchor="end" fill="#1a1a1a" stroke="#1a1a1a" stroke-width="0.10" font-weight="normal" font-style="normal" >1.0</text>
<line x1="393.50" y1="442.32" x2="396.50" y2="442.32" stroke="#3a3a3a" stroke-width="1" />
<text x="392.00" y="445.52" font-size="9" text-anchor="end" fill="#1a1a1a" stroke="#1a1a1a" stroke-width="0.10" font-weight="normal" font-style="normal" >1.2</text>
<line x1="414.20" y1="553.20" x2="414.20" y2="556.20" stroke="#1e1e1e" stroke-width="1" />
<text x="0.00" y="0.00" font-size="9" text-anchor="end" fill="#1a1a1a" stroke="#1a1a1a" stroke-width="0.10" font-weight="normal" font-style="normal" transform="translate(417.00,560.80) rotate(-45)">WT Ctrl</text>
<line x1="441.80" y1="553.20" x2="441.80" y2="556.20" stroke="#1e1e1e" stroke-width="1" />
<text x="0.00" y="0.00" font-size="9" text-anchor="end" fill="#1a1a1a" stroke="#1a1a1a" stroke-width="0.10" font-weight="normal" font-style="normal" transform="translate(444.60,560.80) rotate(-45)">Vehicle</text>
<line x1="468.80" y1="553.20" x2="468.80" y2="556.20" stroke="#1e1e1e" stroke-width="1" />
<text x="0.00" y="0.00" font-size="9" text-anchor="end" fill="#1a1a1a" stroke="#1a1a1a" stroke-width="0.10" font-weight="normal" font-style="normal" transform="translate(471.60,560.80) rotate(-45)">Chemo</text>
<text x="0.00" y="0.00" font-size="9" text-anchor="middle" fill="#1a1a1a" stroke="#1a1a1a" stroke-width="0.10" font-weight="normal" font-style="normal" transform="translate(371.80,498.50) rotate(-90)">Relative QUAD</text>
<line x1="418.50" y1="584.70" x2="458.70" y2="584.70" stroke="#8a8a8a" stroke-width="1.3" />
<text x="438.60" y="596.80" font-size="9.2" text-anchor="middle" fill="#1a1a1a" stroke="#1a1a1a" stroke-width="0.10" font-weight="normal" font-style="normal" >TLCS-PP</text>
<path d="M611.50,425.70 V419.00 H666.40 V425.70" stroke="#5e6b7e" stroke-width="1.15" fill="none"/>
<path d="M611.50,448.30 V441.60 H636.60 V516.30" stroke="#5e6b7e" stroke-width="1.15" fill="none"/>
<path d="M641.30,516.30 V441.60 H666.40 V539.10" stroke="#5e6b7e" stroke-width="1.15" fill="none"/>
<text x="638.60" y="417.40" font-size="6.6" text-anchor="middle" fill="#3a3a3a" stroke="#3a3a3a" stroke-width="0.07" font-weight="normal" font-style="normal" >p&lt;0.0001</text>
<text x="623.60" y="439.30" font-size="6.6" text-anchor="middle" fill="#3a3a3a" stroke="#3a3a3a" stroke-width="0.07" font-weight="normal" font-style="normal" >p&lt;0.0001</text>
<text x="654.00" y="439.30" font-size="6.6" text-anchor="middle" fill="#3a3a3a" stroke="#3a3a3a" stroke-width="0.07" font-weight="normal" font-style="normal" >p=0.0080</text>
<line x1="611.50" y1="463.30" x2="611.50" y2="495.40" stroke="#1e1e1e" stroke-width="0.9" />
<line x1="606.80" y1="463.30" x2="616.20" y2="463.30" stroke="#1e1e1e" stroke-width="0.9" />
<line x1="606.80" y1="495.40" x2="616.20" y2="495.40" stroke="#1e1e1e" stroke-width="0.9" />
<line x1="638.90" y1="524.30" x2="638.90" y2="535.40" stroke="#1e1e1e" stroke-width="0.9" />
<line x1="634.20" y1="524.30" x2="643.60" y2="524.30" stroke="#1e1e1e" stroke-width="0.9" />
<line x1="634.20" y1="535.40" x2="643.60" y2="535.40" stroke="#1e1e1e" stroke-width="0.9" />
<line x1="666.30" y1="546.30" x2="666.30" y2="552.20" stroke="#1e1e1e" stroke-width="0.9" />
<line x1="661.60" y1="546.30" x2="671.00" y2="546.30" stroke="#1e1e1e" stroke-width="0.9" />
<line x1="661.60" y1="552.20" x2="671.00" y2="552.20" stroke="#1e1e1e" stroke-width="0.9" />
<line x1="602.20" y1="479.30" x2="620.80" y2="479.30" stroke="#1e1e1e" stroke-width="0.9" />
<line x1="629.60" y1="529.90" x2="648.20" y2="529.90" stroke="#1e1e1e" stroke-width="0.9" />
<line x1="657.00" y1="548.60" x2="675.60" y2="548.60" stroke="#1e1e1e" stroke-width="0.9" />
<circle cx="611.30" cy="454.50" r="2.2" fill="#acacac" stroke="#1c1c1c" stroke-width="0.85"/>
<circle cx="606.30" cy="470.40" r="2.2" fill="#acacac" stroke="#1c1c1c" stroke-width="0.85"/>
<circle cx="615.70" cy="474.20" r="2.2" fill="#acacac" stroke="#1c1c1c" stroke-width="0.85"/>
<circle cx="611.60" cy="484.80" r="2.2" fill="#acacac" stroke="#1c1c1c" stroke-width="0.85"/>
<circle cx="611.60" cy="492.80" r="2.2" fill="#acacac" stroke="#1c1c1c" stroke-width="0.85"/>
<circle cx="611.60" cy="498.60" r="2.2" fill="#acacac" stroke="#1c1c1c" stroke-width="0.85"/>
<circle cx="638.90" cy="522.20" r="2.2" fill="#babde0" stroke="#1c1c1c" stroke-width="0.85"/>
<circle cx="634.40" cy="530.20" r="2.2" fill="#babde0" stroke="#1c1c1c" stroke-width="0.85"/>
<circle cx="643.70" cy="527.00" r="2.2" fill="#babde0" stroke="#1c1c1c" stroke-width="0.85"/>
<circle cx="643.70" cy="531.80" r="2.2" fill="#babde0" stroke="#1c1c1c" stroke-width="0.85"/>
<circle cx="638.90" cy="537.40" r="2.2" fill="#babde0" stroke="#1c1c1c" stroke-width="0.85"/>
<circle cx="665.00" cy="545.40" r="2.2" fill="#babde0" stroke="#1c1c1c" stroke-width="0.85"/>
<circle cx="662.00" cy="549.00" r="2.2" fill="#babde0" stroke="#1c1c1c" stroke-width="0.85"/>
<circle cx="667.90" cy="549.00" r="2.2" fill="#babde0" stroke="#1c1c1c" stroke-width="0.85"/>
<circle cx="659.40" cy="551.50" r="2.2" fill="#babde0" stroke="#1c1c1c" stroke-width="0.85"/>
<circle cx="665.00" cy="551.30" r="2.2" fill="#babde0" stroke="#1c1c1c" stroke-width="0.85"/>
<circle cx="670.20" cy="552.00" r="2.2" fill="#babde0" stroke="#1c1c1c" stroke-width="0.85"/>
<circle cx="673.50" cy="550.90" r="2.2" fill="#babde0" stroke="#1c1c1c" stroke-width="0.85"/>
<line x1="592.80" y1="442.35" x2="592.80" y2="553.70" stroke="#8a8a8a" stroke-width="1.4" />
<line x1="589.80" y1="553.20" x2="685.50" y2="553.20" stroke="#1e1e1e" stroke-width="1" />
<line x1="589.80" y1="553.20" x2="592.80" y2="553.20" stroke="#8a8a8a" stroke-width="1" />
<text x="588.30" y="556.40" font-size="9" text-anchor="end" fill="#1a1a1a" stroke="#1a1a1a" stroke-width="0.10" font-weight="normal" font-style="normal" >0.0</text>
<line x1="589.80" y1="516.25" x2="592.80" y2="516.25" stroke="#8a8a8a" stroke-width="1" />
<text x="588.30" y="519.45" font-size="9" text-anchor="end" fill="#1a1a1a" stroke="#1a1a1a" stroke-width="0.10" font-weight="normal" font-style="normal" >0.5</text>
<line x1="589.80" y1="479.30" x2="592.80" y2="479.30" stroke="#8a8a8a" stroke-width="1" />
<text x="588.30" y="482.50" font-size="9" text-anchor="end" fill="#1a1a1a" stroke="#1a1a1a" stroke-width="0.10" font-weight="normal" font-style="normal" >1.0</text>
<line x1="589.80" y1="442.35" x2="592.80" y2="442.35" stroke="#8a8a8a" stroke-width="1" />
<text x="588.30" y="445.55" font-size="9" text-anchor="end" fill="#1a1a1a" stroke="#1a1a1a" stroke-width="0.10" font-weight="normal" font-style="normal" >1.5</text>
<line x1="611.50" y1="553.20" x2="611.50" y2="556.20" stroke="#1e1e1e" stroke-width="1" />
<text x="0.00" y="0.00" font-size="9" text-anchor="end" fill="#1a1a1a" stroke="#1a1a1a" stroke-width="0.10" font-weight="normal" font-style="normal" transform="translate(614.30,560.80) rotate(-45)">WT Ctrl</text>
<line x1="638.90" y1="553.20" x2="638.90" y2="556.20" stroke="#1e1e1e" stroke-width="1" />
<text x="0.00" y="0.00" font-size="9" text-anchor="end" fill="#1a1a1a" stroke="#1a1a1a" stroke-width="0.10" font-weight="normal" font-style="normal" transform="translate(641.70,560.80) rotate(-45)">Vehicle</text>
<line x1="666.30" y1="553.20" x2="666.30" y2="556.20" stroke="#1e1e1e" stroke-width="1" />
<text x="0.00" y="0.00" font-size="9" text-anchor="end" fill="#1a1a1a" stroke="#1a1a1a" stroke-width="0.10" font-weight="normal" font-style="normal" transform="translate(669.10,560.80) rotate(-45)">Chemo</text>
<text x="0.00" y="0.00" font-size="9" text-anchor="middle" fill="#1a1a1a" stroke="#1a1a1a" stroke-width="0.10" font-weight="normal" font-style="normal" transform="translate(569.20,496.60) rotate(-90)">Relative WAT</text>
<line x1="615.50" y1="584.70" x2="658.00" y2="584.70" stroke="#8a8a8a" stroke-width="1.3" />
<text x="636.75" y="596.80" font-size="9.2" text-anchor="middle" fill="#1a1a1a" stroke="#1a1a1a" stroke-width="0.10" font-weight="normal" font-style="normal" >TLCS-PP</text>
<rect x="12" y="36.2" width="220.2" height="114.6" rx="5.5" fill="#f8f8f8"/>
<text x="25.90" y="60.60" font-size="9.5" text-anchor="start" fill="#1a1a1a" stroke="#1a1a1a" stroke-width="0.11" font-weight="normal" font-style="normal" >Ad-Cre</text>
<text x="103.00" y="58.70" font-size="9.5" text-anchor="start" fill="#1a1a1a" stroke="#1a1a1a" stroke-width="0.11" font-weight="normal" font-style="normal" >WT / TLCS-P / TLCS-PP</text>
<text x="17.70" y="82.80" font-size="9.3" text-anchor="start" fill="#1a1a1a" stroke="#1a1a1a" stroke-width="0.10" font-weight="normal" font-style="normal" >0W</text>
<text x="208.00" y="81.10" font-size="9.3" text-anchor="start" fill="#1a1a1a" stroke="#1a1a1a" stroke-width="0.10" font-weight="normal" font-style="normal" >12W</text>
<rect x="35.8" y="76.8" width="163.9" height="7.2" fill="#eff3f1"/>
<line x1="35.80" y1="84.10" x2="199.70" y2="84.10" stroke="#c2c6c6" stroke-width="1" />
<line x1="36.30" y1="78.90" x2="36.30" y2="82.40" stroke="#6e6e6e" stroke-width="0.75" />
<polygon points="35.05,79.9 37.55,79.9 36.30,77.5" fill="#6e6e6e"/>
<line x1="49.94" y1="78.90" x2="49.94" y2="82.40" stroke="#6e6e6e" stroke-width="0.75" />
<polygon points="48.69,79.9 51.19,79.9 49.94,77.5" fill="#6e6e6e"/>
<line x1="63.58" y1="78.90" x2="63.58" y2="82.40" stroke="#6e6e6e" stroke-width="0.75" />
<polygon points="62.33,79.9 64.83,79.9 63.58,77.5" fill="#6e6e6e"/>
<line x1="77.22" y1="78.90" x2="77.22" y2="82.40" stroke="#6e6e6e" stroke-width="0.75" />
<polygon points="75.97,79.9 78.47,79.9 77.22,77.5" fill="#6e6e6e"/>
<line x1="90.86" y1="78.90" x2="90.86" y2="82.40" stroke="#6e6e6e" stroke-width="0.75" />
<polygon points="89.61,79.9 92.11,79.9 90.86,77.5" fill="#6e6e6e"/>
<line x1="104.50" y1="78.90" x2="104.50" y2="82.40" stroke="#6e6e6e" stroke-width="0.75" />
<polygon points="103.25,79.9 105.75,79.9 104.50,77.5" fill="#6e6e6e"/>
<line x1="118.14" y1="78.90" x2="118.14" y2="82.40" stroke="#6e6e6e" stroke-width="0.75" />
<polygon points="116.89,79.9 119.39,79.9 118.14,77.5" fill="#6e6e6e"/>
<line x1="131.78" y1="78.90" x2="131.78" y2="82.40" stroke="#6e6e6e" stroke-width="0.75" />
<polygon points="130.53,79.9 133.03,79.9 131.78,77.5" fill="#6e6e6e"/>
<line x1="145.42" y1="78.90" x2="145.42" y2="82.40" stroke="#6e6e6e" stroke-width="0.75" />
<polygon points="144.17,79.9 146.67,79.9 145.42,77.5" fill="#6e6e6e"/>
<line x1="159.06" y1="78.90" x2="159.06" y2="82.40" stroke="#6e6e6e" stroke-width="0.75" />
<polygon points="157.81,79.9 160.31,79.9 159.06,77.5" fill="#6e6e6e"/>
<line x1="172.70" y1="78.90" x2="172.70" y2="82.40" stroke="#6e6e6e" stroke-width="0.75" />
<polygon points="171.45,79.9 173.95,79.9 172.70,77.5" fill="#6e6e6e"/>
<line x1="186.34" y1="78.90" x2="186.34" y2="82.40" stroke="#6e6e6e" stroke-width="0.75" />
<polygon points="185.09,79.9 187.59,79.9 186.34,77.5" fill="#6e6e6e"/>
<line x1="199.98" y1="78.90" x2="199.98" y2="82.40" stroke="#6e6e6e" stroke-width="0.75" />
<polygon points="198.73,79.9 201.23,79.9 199.98,77.5" fill="#6e6e6e"/>
<text x="76.20" y="101.40" font-size="9.6" text-anchor="start" fill="#1a1a1a" stroke="#1a1a1a" stroke-width="0.11" font-weight="normal" font-style="normal" >Body weight measurement</text>
<text x="133.10" y="120.50" font-size="9.6" text-anchor="middle" fill="#1a1a1a" stroke="#1a1a1a" stroke-width="0.11" font-weight="normal" font-style="normal" >&amp;</text>
<text x="76.20" y="137.00" font-size="9.6" text-anchor="start" fill="#1a1a1a" stroke="#1a1a1a" stroke-width="0.11" font-weight="normal" font-style="normal" >Body composition analysis</text>
<polygon points="44.4,97.6 50,96.2 60,97 65.2,99.4 64.4,101.6 57,103.6 50,102.6 44.4,100.6" fill="#a3a1a1"/>
<polygon points="54,99.6 60,97.4 64.9,99.4 64.1,101.6 58,103 54.5,101.6" fill="#5e5e5e"/>
<ellipse cx="53" cy="95.7" rx="5.2" ry="1.6" fill="#c6c6ca"/>
<rect x="54.5" y="127.6" width="10.5" height="14.3" rx="1" fill="#a2a2a2"/>
<rect x="60" y="128" width="5" height="13.6" fill="#8e8e8e"/>
<ellipse cx="54.5" cy="134.6" rx="4.6" ry="7.2" fill="#d2d2d2"/>
<rect x="57" y="124.6" width="1" height="2.6" fill="#777"/>
<rect x="55" y="125.2" width="2.5" height="0.9" fill="#777"/>
<rect x="52.8" y="132.4" width="1.8" height="2.8" fill="none" stroke="#4a6aa8" stroke-width="0.5"/>
<rect x="51.6" y="138.8" width="4.2" height="1.1" fill="#2e5a9a"/>
<path d="M44.2,138.6 L47.9,135.1 L53.2,135.3" stroke="#555" stroke-width="0.6" fill="none"/>
<line x1="52.3" y1="135.3" x2="52.3" y2="139" stroke="#666" stroke-width="0.5"/>
<path d="M85.5,55.5 C90.5,53.2 94.8,51.2 97.2,52.4 C98.2,53.6 96.6,56 93.2,57.4" stroke="#e0a3a6" stroke-width="1.1" fill="none" stroke-linecap="round"/>
<path d="M71,62 L70.5,65.6 L73.5,66.2" stroke="#dca3a5" stroke-width="1.3" fill="none" stroke-linecap="round"/>
<path d="M82,63 L82.3,67.4 L84.6,67.6" stroke="#dca3a5" stroke-width="1.3" fill="none" stroke-linecap="round"/>
<ellipse cx="85.6" cy="61.6" rx="1.2" ry="0.8" fill="#dca3a5"/>
<ellipse cx="78.6" cy="57.2" rx="8.6" ry="6.6" fill="#e9e3e1" stroke="#d6cdcb" stroke-width="0.5"/>
<ellipse cx="71.5" cy="54.4" rx="5.2" ry="4.3" transform="rotate(-20 71.5 54.4)" fill="#eeeae9" stroke="#d6cdcb" stroke-width="0.4"/>
<polygon points="66,53.6 69,51.2 69.5,55.5" fill="#eeeae9"/>
<ellipse cx="78.2" cy="50.8" rx="2.7" ry="3.3" transform="rotate(15 78.2 50.8)" fill="#dfb0b1"/>
<ellipse cx="71.3" cy="48.8" rx="1.2" ry="1.6" fill="#e3bcbc"/>
<circle cx="72.5" cy="52.6" r="0.65" fill="#c0303f"/>
<circle cx="66.3" cy="53.3" r="0.6" fill="#e09aa0"/>
<polygon points="55.2,39.4 57.4,37.8 64.2,48.6 62.8,49.8" fill="#dcecf7" stroke="#9fc3dd" stroke-width="0.5"/>
<line x1="59.5" y1="43.5" x2="63.3" y2="49.2" stroke="#a8d0ea" stroke-width="1.2"/>
<line x1="63.2" y1="49.0" x2="64.6" y2="51.3" stroke="#4f86b8" stroke-width="0.8"/>
<line x1="66.10" y1="44.20" x2="66.10" y2="41.20" stroke="#de7a88" stroke-width="0.55" />
<circle cx="66.10" cy="41.20" r="0.42" fill="#de7a88"/>
<line x1="66.10" y1="44.20" x2="68.70" y2="42.70" stroke="#de7a88" stroke-width="0.55" />
<circle cx="68.70" cy="42.70" r="0.42" fill="#de7a88"/>
<line x1="66.10" y1="44.20" x2="68.70" y2="45.70" stroke="#de7a88" stroke-width="0.55" />
<circle cx="68.70" cy="45.70" r="0.42" fill="#de7a88"/>
<line x1="66.10" y1="44.20" x2="66.10" y2="47.20" stroke="#de7a88" stroke-width="0.55" />
<circle cx="66.10" cy="47.20" r="0.42" fill="#de7a88"/>
<line x1="66.10" y1="44.20" x2="63.50" y2="45.70" stroke="#de7a88" stroke-width="0.55" />
<circle cx="63.50" cy="45.70" r="0.42" fill="#de7a88"/>
<line x1="66.10" y1="44.20" x2="63.50" y2="42.70" stroke="#de7a88" stroke-width="0.55" />
<circle cx="63.50" cy="42.70" r="0.42" fill="#de7a88"/>
<circle cx="66.1" cy="44.2" r="1.65" fill="#de7a88"/>
<line x1="258.60" y1="245.80" x2="258.60" y2="241.40" stroke="#d98894" stroke-width="0.55" />
<circle cx="258.60" cy="241.40" r="0.62" fill="#d98894"/>
<line x1="258.60" y1="245.80" x2="262.41" y2="243.60" stroke="#d98894" stroke-width="0.55" />
<circle cx="262.41" cy="243.60" r="0.62" fill="#d98894"/>
<line x1="258.60" y1="245.80" x2="262.41" y2="248.00" stroke="#d98894" stroke-width="0.55" />
<circle cx="262.41" cy="248.00" r="0.62" fill="#d98894"/>
<line x1="258.60" y1="245.80" x2="258.60" y2="250.20" stroke="#d98894" stroke-width="0.55" />
<circle cx="258.60" cy="250.20" r="0.62" fill="#d98894"/>
<line x1="258.60" y1="245.80" x2="254.79" y2="248.00" stroke="#d98894" stroke-width="0.55" />
<circle cx="254.79" cy="248.00" r="0.62" fill="#d98894"/>
<line x1="258.60" y1="245.80" x2="254.79" y2="243.60" stroke="#d98894" stroke-width="0.55" />
<circle cx="254.79" cy="243.60" r="0.62" fill="#d98894"/>
<circle cx="258.6" cy="245.8" r="2.42" fill="#d98894"/>
<line x1="252.30" y1="251.40" x2="252.30" y2="264.00" stroke="#1e1e1e" stroke-width="0.8" />
<polygon points="250.3,263.4 254.3,263.4 252.3,266.4" fill="#1e1e1e"/>
<text x="256.70" y="262.20" font-size="9.9" text-anchor="start" fill="#1a1a1a" stroke="#1a1a1a" stroke-width="0.11" font-weight="normal" font-style="normal" >Ad-Cre</text>
<text x="346.10" y="262.30" font-size="10" text-anchor="start" fill="#1a1a1a" stroke="#1a1a1a" stroke-width="0.11" font-weight="normal" font-style="normal" >PEM/CDDP</text>
<rect x="252.1" y="268.8" width="82.3" height="7.6" fill="#fcfcfc" stroke="#9a9a9a" stroke-width="0.8"/>
<rect x="334.4" y="268.8" width="75" height="7.6" fill="#bcc6df" stroke="#9a9a9a" stroke-width="0.8"/>
<text x="245.10" y="289.20" font-size="9.7" text-anchor="start" fill="#1a1a1a" stroke="#1a1a1a" stroke-width="0.11" font-weight="normal" font-style="normal" >0W</text>
<text x="324.90" y="289.20" font-size="9.7" text-anchor="start" fill="#1a1a1a" stroke="#1a1a1a" stroke-width="0.11" font-weight="normal" font-style="normal" >10W</text>
<text x="399.80" y="289.20" font-size="9.7" text-anchor="start" fill="#1a1a1a" stroke="#1a1a1a" stroke-width="0.11" font-weight="normal" font-style="normal" >12W</text>
<path d="M272.5,304.4 C263,303.8 255.5,306.5 252.9,313.6" stroke="#d9a19e" stroke-width="1.7" fill="none" stroke-linecap="round"/>
<line x1="274.5" y1="308.5" x2="273.4" y2="311.0" stroke="#d9a19e" stroke-width="1.4"/>
<ellipse cx="273.4" cy="311.0" rx="1.7" ry="1.0" fill="#d9a19e"/>
<line x1="280.8" y1="310.5" x2="280.4" y2="313.8" stroke="#d9a19e" stroke-width="1.4"/>
<ellipse cx="280.4" cy="313.8" rx="1.7" ry="1.0" fill="#d9a19e"/>
<line x1="290.5" y1="309.5" x2="291.2" y2="313.0" stroke="#d9a19e" stroke-width="1.4"/>
<ellipse cx="291.2" cy="313.0" rx="1.7" ry="1.0" fill="#d9a19e"/>
<ellipse cx="281.6" cy="302" rx="10.6" ry="9.2" fill="#e9e5e3" stroke="#d3cbc9" stroke-width="0.5"/>
<ellipse cx="286" cy="303.8" rx="6.2" ry="5.6" fill="#f0edec"/>
<ellipse cx="279.4" cy="297.5" rx="2.6" ry="3.6" transform="rotate(-10 279.4 297.5)" fill="#d8a3a2"/>
<ellipse cx="292.4" cy="297.2" rx="2.5" ry="3.5" transform="rotate(10 292.4 297.2)" fill="#d8a3a2"/>
<circle cx="282.9" cy="303.3" r="0.8" fill="#b0404e"/>
<circle cx="288.4" cy="303.1" r="0.8" fill="#b0404e"/>
<circle cx="285.7" cy="308.2" r="0.75" fill="#d98f95"/>
<text x="255.5" y="328.3" font-size="10" font-style="italic" fill="#1a1a1a" stroke="#1a1a1a" stroke-width="0.1">EGFR<tspan font-size="6.1" dy="-3.7">TLCS</tspan><tspan dy="3.7">;PIK3CA</tspan><tspan font-size="6.1" dy="-3.7">E545K</tspan><tspan dy="3.7">;Trp53</tspan><tspan font-size="6.1" dy="-3.7">flox/flox</tspan></text>
<text x="331.00" y="341.80" font-size="10" text-anchor="middle" fill="#1a1a1a" stroke="#1a1a1a" stroke-width="0.11" font-weight="normal" font-style="normal" >(TLCS-PP)</text>
<text x="-0.60" y="9.70" font-size="14" text-anchor="start" fill="#000" stroke="#000" stroke-width="0.00" font-weight="bold" font-style="normal" >a</text>
<text x="238.20" y="9.90" font-size="14" text-anchor="start" fill="#000" stroke="#000" stroke-width="0.00" font-weight="bold" font-style="normal" >b</text>
<text x="465.40" y="9.70" font-size="14" text-anchor="start" fill="#000" stroke="#000" stroke-width="0.00" font-weight="bold" font-style="normal" >c</text>
<text x="-0.70" y="204.90" font-size="14" text-anchor="start" fill="#000" stroke="#000" stroke-width="0.00" font-weight="bold" font-style="normal" >d</text>
<text x="223.20" y="205.20" font-size="14" text-anchor="start" fill="#000" stroke="#000" stroke-width="0.00" font-weight="bold" font-style="normal" >e</text>
<text x="432.40" y="204.90" font-size="14" text-anchor="start" fill="#000" stroke="#000" stroke-width="0.00" font-weight="bold" font-style="normal" >f</text>
<text x="560.00" y="204.90" font-size="14" text-anchor="start" fill="#000" stroke="#000" stroke-width="0.00" font-weight="bold" font-style="normal" >g</text>
<text x="-0.40" y="400.80" font-size="14" text-anchor="start" fill="#000" stroke="#000" stroke-width="0.00" font-weight="bold" font-style="normal" >h</text>
<text x="522.00" y="400.80" font-size="14" text-anchor="start" fill="#000" stroke="#000" stroke-width="0.00" font-weight="bold" font-style="normal" >i</text>
</svg></body></html>
